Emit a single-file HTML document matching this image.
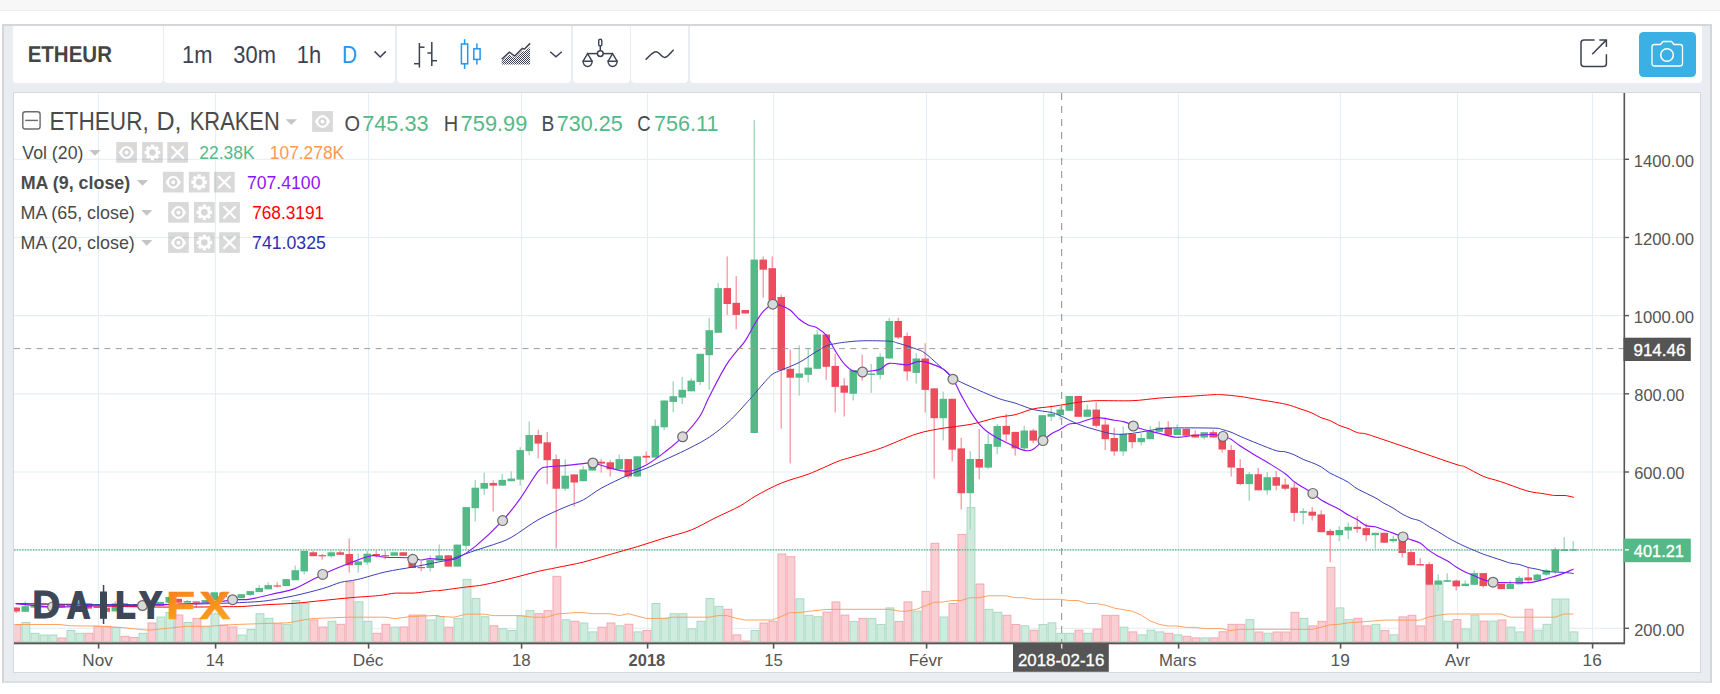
<!DOCTYPE html>
<html><head><meta charset="utf-8"><title>ETHEUR chart</title>
<style>
html,body{margin:0;padding:0;background:#fff;}
body{width:1720px;height:694px;overflow:hidden;position:relative;font-family:"Liberation Sans",sans-serif;}
.strip{position:absolute;left:0;top:0;width:100%;height:10px;background:#f7f7f7;border-bottom:1px solid #ececec;}
.frame{position:absolute;left:2px;top:24px;width:1706px;height:655px;background:#e9edf1;border:2px solid #d4d6d9;border-bottom-color:#dcdfe2;}
.tb{position:absolute;top:26px;height:57px;background:#fff;border-radius:0 0 4px 4px;}
.pane{position:absolute;left:13px;top:92px;width:1686px;height:579px;background:#fff;border:1px solid #d5d9dd;}
svg{position:absolute;left:0;top:0;}
</style></head><body>
<div class="strip"></div>
<div class="frame"></div>
<div class="tb" style="left:13px;width:150.3px"></div>
<div class="tb" style="left:164.4px;width:231.1px"></div>
<div class="tb" style="left:397px;width:174px"></div>
<div class="tb" style="left:572.5px;width:57px"></div>
<div class="tb" style="left:631px;width:57px"></div>
<div class="tb" style="left:689.5px;width:1012.5px"></div>
<div class="pane"></div>
<svg width="1720" height="694" viewBox="0 0 1720 694">
<defs><clipPath id="cp"><rect x="14" y="93" width="1609.5" height="549.3"/></clipPath><linearGradient id="fx" x1="0" y1="0" x2="0.35" y2="1"><stop offset="0" stop-color="#f47920"/><stop offset="1" stop-color="#fba31c"/></linearGradient></defs>
<rect x="97.9" y="93" width="1.2" height="549" fill="#e6eef4"/>
<rect x="214.9" y="93" width="1.2" height="549" fill="#e6eef4"/>
<rect x="367.9" y="93" width="1.2" height="549" fill="#e6eef4"/>
<rect x="520.9" y="93" width="1.2" height="549" fill="#e6eef4"/>
<rect x="646.9" y="93" width="1.2" height="549" fill="#e6eef4"/>
<rect x="772.9" y="93" width="1.2" height="549" fill="#e6eef4"/>
<rect x="925.9" y="93" width="1.2" height="549" fill="#e6eef4"/>
<rect x="1042.9" y="93" width="1.2" height="549" fill="#e6eef4"/>
<rect x="1177.9" y="93" width="1.2" height="549" fill="#e6eef4"/>
<rect x="1339.9" y="93" width="1.2" height="549" fill="#e6eef4"/>
<rect x="1456.9" y="93" width="1.2" height="549" fill="#e6eef4"/>
<rect x="1591.9" y="93" width="1.2" height="549" fill="#e6eef4"/>
<rect x="14" y="158.7" width="1610" height="1.2" fill="#e6eef4"/>
<rect x="14" y="236.9" width="1610" height="1.2" fill="#e6eef4"/>
<rect x="14" y="315.0" width="1610" height="1.2" fill="#e6eef4"/>
<rect x="14" y="393.2" width="1610" height="1.2" fill="#e6eef4"/>
<rect x="14" y="471.4" width="1610" height="1.2" fill="#e6eef4"/>
<rect x="14" y="549.6" width="1610" height="1.2" fill="#e6eef4"/>
<rect x="14" y="627.7" width="1610" height="1.2" fill="#e6eef4"/>
<g clip-path="url(#cp)">
<rect x="13.0" y="624.5" width="7.9" height="17.3" fill="#f9cbd0" stroke="#f2a3ab" stroke-width="0.9" fill-opacity="0.92"/>
<rect x="22.0" y="622.5" width="7.9" height="19.3" fill="#cbe9db" stroke="#a3d7bf" stroke-width="0.9" fill-opacity="0.92"/>
<rect x="31.0" y="633.3" width="7.9" height="8.5" fill="#cbe9db" stroke="#a3d7bf" stroke-width="0.9" fill-opacity="0.92"/>
<rect x="40.0" y="635.0" width="7.9" height="6.8" fill="#cbe9db" stroke="#a3d7bf" stroke-width="0.9" fill-opacity="0.92"/>
<rect x="49.0" y="635.0" width="7.9" height="6.8" fill="#cbe9db" stroke="#a3d7bf" stroke-width="0.9" fill-opacity="0.92"/>
<rect x="58.0" y="638.0" width="7.9" height="3.8" fill="#f9cbd0" stroke="#f2a3ab" stroke-width="0.9" fill-opacity="0.92"/>
<rect x="67.0" y="630.5" width="7.9" height="11.3" fill="#cbe9db" stroke="#a3d7bf" stroke-width="0.9" fill-opacity="0.92"/>
<rect x="76.0" y="633.3" width="7.9" height="8.5" fill="#cbe9db" stroke="#a3d7bf" stroke-width="0.9" fill-opacity="0.92"/>
<rect x="85.0" y="633.3" width="7.9" height="8.5" fill="#f9cbd0" stroke="#f2a3ab" stroke-width="0.9" fill-opacity="0.92"/>
<rect x="94.0" y="626.3" width="7.9" height="15.5" fill="#f9cbd0" stroke="#f2a3ab" stroke-width="0.9" fill-opacity="0.92"/>
<rect x="103.0" y="626.3" width="7.9" height="15.5" fill="#f9cbd0" stroke="#f2a3ab" stroke-width="0.9" fill-opacity="0.92"/>
<rect x="112.0" y="627.5" width="7.9" height="14.3" fill="#cbe9db" stroke="#a3d7bf" stroke-width="0.9" fill-opacity="0.92"/>
<rect x="121.0" y="636.3" width="7.9" height="5.5" fill="#f9cbd0" stroke="#f2a3ab" stroke-width="0.9" fill-opacity="0.92"/>
<rect x="130.0" y="637.5" width="7.9" height="4.3" fill="#f9cbd0" stroke="#f2a3ab" stroke-width="0.9" fill-opacity="0.92"/>
<rect x="139.0" y="633.3" width="7.9" height="8.5" fill="#cbe9db" stroke="#a3d7bf" stroke-width="0.9" fill-opacity="0.92"/>
<rect x="148.0" y="623.0" width="7.9" height="18.8" fill="#f9cbd0" stroke="#f2a3ab" stroke-width="0.9" fill-opacity="0.92"/>
<rect x="157.0" y="617.0" width="7.9" height="24.8" fill="#cbe9db" stroke="#a3d7bf" stroke-width="0.9" fill-opacity="0.92"/>
<rect x="166.0" y="612.5" width="7.9" height="29.3" fill="#cbe9db" stroke="#a3d7bf" stroke-width="0.9" fill-opacity="0.92"/>
<rect x="175.0" y="615.0" width="7.9" height="26.8" fill="#f9cbd0" stroke="#f2a3ab" stroke-width="0.9" fill-opacity="0.92"/>
<rect x="184.0" y="622.5" width="7.9" height="19.3" fill="#cbe9db" stroke="#a3d7bf" stroke-width="0.9" fill-opacity="0.92"/>
<rect x="193.0" y="618.3" width="7.9" height="23.5" fill="#f9cbd0" stroke="#f2a3ab" stroke-width="0.9" fill-opacity="0.92"/>
<rect x="202.0" y="626.8" width="7.9" height="15.0" fill="#cbe9db" stroke="#a3d7bf" stroke-width="0.9" fill-opacity="0.92"/>
<rect x="211.0" y="613.8" width="7.9" height="28.0" fill="#cbe9db" stroke="#a3d7bf" stroke-width="0.9" fill-opacity="0.92"/>
<rect x="220.0" y="625.0" width="7.9" height="16.8" fill="#f9cbd0" stroke="#f2a3ab" stroke-width="0.9" fill-opacity="0.92"/>
<rect x="229.0" y="627.0" width="7.9" height="14.8" fill="#f9cbd0" stroke="#f2a3ab" stroke-width="0.9" fill-opacity="0.92"/>
<rect x="238.0" y="635.0" width="7.9" height="6.8" fill="#cbe9db" stroke="#a3d7bf" stroke-width="0.9" fill-opacity="0.92"/>
<rect x="247.0" y="629.5" width="7.9" height="12.3" fill="#cbe9db" stroke="#a3d7bf" stroke-width="0.9" fill-opacity="0.92"/>
<rect x="256.0" y="613.8" width="7.9" height="28.0" fill="#cbe9db" stroke="#a3d7bf" stroke-width="0.9" fill-opacity="0.92"/>
<rect x="265.0" y="618.3" width="7.9" height="23.5" fill="#cbe9db" stroke="#a3d7bf" stroke-width="0.9" fill-opacity="0.92"/>
<rect x="274.0" y="623.8" width="7.9" height="18.0" fill="#f9cbd0" stroke="#f2a3ab" stroke-width="0.9" fill-opacity="0.92"/>
<rect x="283.0" y="624.3" width="7.9" height="17.5" fill="#cbe9db" stroke="#a3d7bf" stroke-width="0.9" fill-opacity="0.92"/>
<rect x="292.0" y="600.5" width="7.9" height="41.3" fill="#cbe9db" stroke="#a3d7bf" stroke-width="0.9" fill-opacity="0.92"/>
<rect x="301.0" y="603.3" width="7.9" height="38.5" fill="#cbe9db" stroke="#a3d7bf" stroke-width="0.9" fill-opacity="0.92"/>
<rect x="310.0" y="620.0" width="7.9" height="21.8" fill="#f9cbd0" stroke="#f2a3ab" stroke-width="0.9" fill-opacity="0.92"/>
<rect x="319.0" y="627.0" width="7.9" height="14.8" fill="#f9cbd0" stroke="#f2a3ab" stroke-width="0.9" fill-opacity="0.92"/>
<rect x="328.0" y="621.3" width="7.9" height="20.5" fill="#cbe9db" stroke="#a3d7bf" stroke-width="0.9" fill-opacity="0.92"/>
<rect x="337.0" y="624.3" width="7.9" height="17.5" fill="#f9cbd0" stroke="#f2a3ab" stroke-width="0.9" fill-opacity="0.92"/>
<rect x="346.0" y="582.0" width="7.9" height="59.8" fill="#f9cbd0" stroke="#f2a3ab" stroke-width="0.9" fill-opacity="0.92"/>
<rect x="355.0" y="601.8" width="7.9" height="40.0" fill="#cbe9db" stroke="#a3d7bf" stroke-width="0.9" fill-opacity="0.92"/>
<rect x="364.0" y="621.3" width="7.9" height="20.5" fill="#cbe9db" stroke="#a3d7bf" stroke-width="0.9" fill-opacity="0.92"/>
<rect x="373.0" y="633.3" width="7.9" height="8.5" fill="#f9cbd0" stroke="#f2a3ab" stroke-width="0.9" fill-opacity="0.92"/>
<rect x="382.0" y="624.3" width="7.9" height="17.5" fill="#f9cbd0" stroke="#f2a3ab" stroke-width="0.9" fill-opacity="0.92"/>
<rect x="391.0" y="627.0" width="7.9" height="14.8" fill="#cbe9db" stroke="#a3d7bf" stroke-width="0.9" fill-opacity="0.92"/>
<rect x="400.0" y="627.0" width="7.9" height="14.8" fill="#f9cbd0" stroke="#f2a3ab" stroke-width="0.9" fill-opacity="0.92"/>
<rect x="409.0" y="615.0" width="7.9" height="26.8" fill="#f9cbd0" stroke="#f2a3ab" stroke-width="0.9" fill-opacity="0.92"/>
<rect x="418.0" y="615.0" width="7.9" height="26.8" fill="#f9cbd0" stroke="#f2a3ab" stroke-width="0.9" fill-opacity="0.92"/>
<rect x="427.0" y="620.0" width="7.9" height="21.8" fill="#cbe9db" stroke="#a3d7bf" stroke-width="0.9" fill-opacity="0.92"/>
<rect x="436.0" y="616.5" width="7.9" height="25.3" fill="#cbe9db" stroke="#a3d7bf" stroke-width="0.9" fill-opacity="0.92"/>
<rect x="445.0" y="627.2" width="7.9" height="14.6" fill="#f9cbd0" stroke="#f2a3ab" stroke-width="0.9" fill-opacity="0.92"/>
<rect x="454.0" y="618.4" width="7.9" height="23.4" fill="#cbe9db" stroke="#a3d7bf" stroke-width="0.9" fill-opacity="0.92"/>
<rect x="463.0" y="579.3" width="7.9" height="62.5" fill="#cbe9db" stroke="#a3d7bf" stroke-width="0.9" fill-opacity="0.92"/>
<rect x="472.0" y="598.6" width="7.9" height="43.2" fill="#cbe9db" stroke="#a3d7bf" stroke-width="0.9" fill-opacity="0.92"/>
<rect x="481.0" y="616.7" width="7.9" height="25.1" fill="#cbe9db" stroke="#a3d7bf" stroke-width="0.9" fill-opacity="0.92"/>
<rect x="490.0" y="625.8" width="7.9" height="16.0" fill="#f9cbd0" stroke="#f2a3ab" stroke-width="0.9" fill-opacity="0.92"/>
<rect x="499.0" y="628.8" width="7.9" height="13.0" fill="#cbe9db" stroke="#a3d7bf" stroke-width="0.9" fill-opacity="0.92"/>
<rect x="508.0" y="630.5" width="7.9" height="11.3" fill="#cbe9db" stroke="#a3d7bf" stroke-width="0.9" fill-opacity="0.92"/>
<rect x="517.0" y="616.0" width="7.9" height="25.8" fill="#cbe9db" stroke="#a3d7bf" stroke-width="0.9" fill-opacity="0.92"/>
<rect x="526.0" y="610.7" width="7.9" height="31.1" fill="#cbe9db" stroke="#a3d7bf" stroke-width="0.9" fill-opacity="0.92"/>
<rect x="535.0" y="613.7" width="7.9" height="28.1" fill="#f9cbd0" stroke="#f2a3ab" stroke-width="0.9" fill-opacity="0.92"/>
<rect x="544.0" y="610.7" width="7.9" height="31.1" fill="#f9cbd0" stroke="#f2a3ab" stroke-width="0.9" fill-opacity="0.92"/>
<rect x="553.0" y="576.3" width="7.9" height="65.5" fill="#f9cbd0" stroke="#f2a3ab" stroke-width="0.9" fill-opacity="0.92"/>
<rect x="562.0" y="619.8" width="7.9" height="22.0" fill="#cbe9db" stroke="#a3d7bf" stroke-width="0.9" fill-opacity="0.92"/>
<rect x="571.0" y="621.2" width="7.9" height="20.6" fill="#f9cbd0" stroke="#f2a3ab" stroke-width="0.9" fill-opacity="0.92"/>
<rect x="580.0" y="623.0" width="7.9" height="18.8" fill="#cbe9db" stroke="#a3d7bf" stroke-width="0.9" fill-opacity="0.92"/>
<rect x="589.0" y="631.9" width="7.9" height="9.9" fill="#cbe9db" stroke="#a3d7bf" stroke-width="0.9" fill-opacity="0.92"/>
<rect x="598.0" y="627.2" width="7.9" height="14.6" fill="#f9cbd0" stroke="#f2a3ab" stroke-width="0.9" fill-opacity="0.92"/>
<rect x="607.0" y="623.0" width="7.9" height="18.8" fill="#f9cbd0" stroke="#f2a3ab" stroke-width="0.9" fill-opacity="0.92"/>
<rect x="616.0" y="625.8" width="7.9" height="16.0" fill="#cbe9db" stroke="#a3d7bf" stroke-width="0.9" fill-opacity="0.92"/>
<rect x="625.0" y="624.2" width="7.9" height="17.6" fill="#f9cbd0" stroke="#f2a3ab" stroke-width="0.9" fill-opacity="0.92"/>
<rect x="634.0" y="631.9" width="7.9" height="9.9" fill="#cbe9db" stroke="#a3d7bf" stroke-width="0.9" fill-opacity="0.92"/>
<rect x="643.0" y="630.5" width="7.9" height="11.3" fill="#f9cbd0" stroke="#f2a3ab" stroke-width="0.9" fill-opacity="0.92"/>
<rect x="652.0" y="603.5" width="7.9" height="38.3" fill="#cbe9db" stroke="#a3d7bf" stroke-width="0.9" fill-opacity="0.92"/>
<rect x="661.0" y="618.4" width="7.9" height="23.4" fill="#cbe9db" stroke="#a3d7bf" stroke-width="0.9" fill-opacity="0.92"/>
<rect x="670.0" y="613.7" width="7.9" height="28.1" fill="#cbe9db" stroke="#a3d7bf" stroke-width="0.9" fill-opacity="0.92"/>
<rect x="679.0" y="613.7" width="7.9" height="28.1" fill="#cbe9db" stroke="#a3d7bf" stroke-width="0.9" fill-opacity="0.92"/>
<rect x="688.0" y="628.8" width="7.9" height="13.0" fill="#cbe9db" stroke="#a3d7bf" stroke-width="0.9" fill-opacity="0.92"/>
<rect x="697.0" y="621.2" width="7.9" height="20.6" fill="#cbe9db" stroke="#a3d7bf" stroke-width="0.9" fill-opacity="0.92"/>
<rect x="706.0" y="598.6" width="7.9" height="43.2" fill="#cbe9db" stroke="#a3d7bf" stroke-width="0.9" fill-opacity="0.92"/>
<rect x="715.0" y="606.3" width="7.9" height="35.5" fill="#cbe9db" stroke="#a3d7bf" stroke-width="0.9" fill-opacity="0.92"/>
<rect x="724.0" y="609.3" width="7.9" height="32.5" fill="#f9cbd0" stroke="#f2a3ab" stroke-width="0.9" fill-opacity="0.92"/>
<rect x="733.0" y="634.9" width="7.9" height="6.9" fill="#f9cbd0" stroke="#f2a3ab" stroke-width="0.9" fill-opacity="0.92"/>
<rect x="742.0" y="641.0" width="7.9" height="0.8" fill="#f9cbd0" stroke="#f2a3ab" stroke-width="0.9" fill-opacity="0.92"/>
<rect x="751.0" y="630.5" width="7.9" height="11.3" fill="#cbe9db" stroke="#a3d7bf" stroke-width="0.9" fill-opacity="0.92"/>
<rect x="760.0" y="623.0" width="7.9" height="18.8" fill="#f9cbd0" stroke="#f2a3ab" stroke-width="0.9" fill-opacity="0.92"/>
<rect x="769.0" y="621.2" width="7.9" height="20.6" fill="#f9cbd0" stroke="#f2a3ab" stroke-width="0.9" fill-opacity="0.92"/>
<rect x="778.0" y="554.0" width="7.9" height="87.8" fill="#f9cbd0" stroke="#f2a3ab" stroke-width="0.9" fill-opacity="0.92"/>
<rect x="787.0" y="556.7" width="7.9" height="85.1" fill="#f9cbd0" stroke="#f2a3ab" stroke-width="0.9" fill-opacity="0.92"/>
<rect x="796.0" y="598.8" width="7.9" height="43.0" fill="#cbe9db" stroke="#a3d7bf" stroke-width="0.9" fill-opacity="0.92"/>
<rect x="805.0" y="615.3" width="7.9" height="26.5" fill="#cbe9db" stroke="#a3d7bf" stroke-width="0.9" fill-opacity="0.92"/>
<rect x="814.0" y="616.7" width="7.9" height="25.1" fill="#cbe9db" stroke="#a3d7bf" stroke-width="0.9" fill-opacity="0.92"/>
<rect x="823.0" y="612.1" width="7.9" height="29.7" fill="#f9cbd0" stroke="#f2a3ab" stroke-width="0.9" fill-opacity="0.92"/>
<rect x="832.0" y="602.0" width="7.9" height="39.8" fill="#f9cbd0" stroke="#f2a3ab" stroke-width="0.9" fill-opacity="0.92"/>
<rect x="841.0" y="615.1" width="7.9" height="26.7" fill="#f9cbd0" stroke="#f2a3ab" stroke-width="0.9" fill-opacity="0.92"/>
<rect x="850.0" y="621.4" width="7.9" height="20.4" fill="#cbe9db" stroke="#a3d7bf" stroke-width="0.9" fill-opacity="0.92"/>
<rect x="859.0" y="618.4" width="7.9" height="23.4" fill="#f9cbd0" stroke="#f2a3ab" stroke-width="0.9" fill-opacity="0.92"/>
<rect x="868.0" y="618.4" width="7.9" height="23.4" fill="#cbe9db" stroke="#a3d7bf" stroke-width="0.9" fill-opacity="0.92"/>
<rect x="877.0" y="624.4" width="7.9" height="17.4" fill="#cbe9db" stroke="#a3d7bf" stroke-width="0.9" fill-opacity="0.92"/>
<rect x="886.0" y="607.9" width="7.9" height="33.9" fill="#cbe9db" stroke="#a3d7bf" stroke-width="0.9" fill-opacity="0.92"/>
<rect x="895.0" y="621.4" width="7.9" height="20.4" fill="#f9cbd0" stroke="#f2a3ab" stroke-width="0.9" fill-opacity="0.92"/>
<rect x="904.0" y="601.9" width="7.9" height="39.9" fill="#f9cbd0" stroke="#f2a3ab" stroke-width="0.9" fill-opacity="0.92"/>
<rect x="913.0" y="611.2" width="7.9" height="30.6" fill="#cbe9db" stroke="#a3d7bf" stroke-width="0.9" fill-opacity="0.92"/>
<rect x="922.0" y="591.4" width="7.9" height="50.4" fill="#f9cbd0" stroke="#f2a3ab" stroke-width="0.9" fill-opacity="0.92"/>
<rect x="931.0" y="543.3" width="7.9" height="98.5" fill="#f9cbd0" stroke="#f2a3ab" stroke-width="0.9" fill-opacity="0.92"/>
<rect x="940.0" y="617.0" width="7.9" height="24.8" fill="#cbe9db" stroke="#a3d7bf" stroke-width="0.9" fill-opacity="0.92"/>
<rect x="949.0" y="603.5" width="7.9" height="38.3" fill="#f9cbd0" stroke="#f2a3ab" stroke-width="0.9" fill-opacity="0.92"/>
<rect x="958.0" y="534.4" width="7.9" height="107.4" fill="#f9cbd0" stroke="#f2a3ab" stroke-width="0.9" fill-opacity="0.92"/>
<rect x="967.0" y="507.4" width="7.9" height="134.4" fill="#cbe9db" stroke="#a3d7bf" stroke-width="0.9" fill-opacity="0.92"/>
<rect x="976.0" y="584.0" width="7.9" height="57.8" fill="#f9cbd0" stroke="#f2a3ab" stroke-width="0.9" fill-opacity="0.92"/>
<rect x="985.0" y="609.3" width="7.9" height="32.5" fill="#cbe9db" stroke="#a3d7bf" stroke-width="0.9" fill-opacity="0.92"/>
<rect x="994.0" y="612.3" width="7.9" height="29.5" fill="#cbe9db" stroke="#a3d7bf" stroke-width="0.9" fill-opacity="0.92"/>
<rect x="1003.0" y="615.3" width="7.9" height="26.5" fill="#f9cbd0" stroke="#f2a3ab" stroke-width="0.9" fill-opacity="0.92"/>
<rect x="1012.0" y="624.4" width="7.9" height="17.4" fill="#f9cbd0" stroke="#f2a3ab" stroke-width="0.9" fill-opacity="0.92"/>
<rect x="1021.0" y="625.8" width="7.9" height="16.0" fill="#cbe9db" stroke="#a3d7bf" stroke-width="0.9" fill-opacity="0.92"/>
<rect x="1030.0" y="630.2" width="7.9" height="11.6" fill="#f9cbd0" stroke="#f2a3ab" stroke-width="0.9" fill-opacity="0.92"/>
<rect x="1039.0" y="624.4" width="7.9" height="17.4" fill="#cbe9db" stroke="#a3d7bf" stroke-width="0.9" fill-opacity="0.92"/>
<rect x="1048.0" y="622.8" width="7.9" height="19.0" fill="#cbe9db" stroke="#a3d7bf" stroke-width="0.9" fill-opacity="0.92"/>
<rect x="1057.0" y="633.3" width="7.9" height="8.5" fill="#cbe9db" stroke="#a3d7bf" stroke-width="0.9" fill-opacity="0.92"/>
<rect x="1066.0" y="633.3" width="7.9" height="8.5" fill="#cbe9db" stroke="#a3d7bf" stroke-width="0.9" fill-opacity="0.92"/>
<rect x="1075.0" y="630.2" width="7.9" height="11.6" fill="#f9cbd0" stroke="#f2a3ab" stroke-width="0.9" fill-opacity="0.92"/>
<rect x="1084.0" y="633.3" width="7.9" height="8.5" fill="#cbe9db" stroke="#a3d7bf" stroke-width="0.9" fill-opacity="0.92"/>
<rect x="1093.0" y="629.1" width="7.9" height="12.7" fill="#f9cbd0" stroke="#f2a3ab" stroke-width="0.9" fill-opacity="0.92"/>
<rect x="1102.0" y="615.3" width="7.9" height="26.5" fill="#f9cbd0" stroke="#f2a3ab" stroke-width="0.9" fill-opacity="0.92"/>
<rect x="1111.0" y="615.3" width="7.9" height="26.5" fill="#f9cbd0" stroke="#f2a3ab" stroke-width="0.9" fill-opacity="0.92"/>
<rect x="1120.0" y="627.2" width="7.9" height="14.6" fill="#cbe9db" stroke="#a3d7bf" stroke-width="0.9" fill-opacity="0.92"/>
<rect x="1129.0" y="631.9" width="7.9" height="9.9" fill="#f9cbd0" stroke="#f2a3ab" stroke-width="0.9" fill-opacity="0.92"/>
<rect x="1138.0" y="634.9" width="7.9" height="6.9" fill="#cbe9db" stroke="#a3d7bf" stroke-width="0.9" fill-opacity="0.92"/>
<rect x="1147.0" y="630.2" width="7.9" height="11.6" fill="#cbe9db" stroke="#a3d7bf" stroke-width="0.9" fill-opacity="0.92"/>
<rect x="1156.0" y="631.9" width="7.9" height="9.9" fill="#cbe9db" stroke="#a3d7bf" stroke-width="0.9" fill-opacity="0.92"/>
<rect x="1165.0" y="633.3" width="7.9" height="8.5" fill="#f9cbd0" stroke="#f2a3ab" stroke-width="0.9" fill-opacity="0.92"/>
<rect x="1174.0" y="634.9" width="7.9" height="6.9" fill="#cbe9db" stroke="#a3d7bf" stroke-width="0.9" fill-opacity="0.92"/>
<rect x="1183.0" y="636.3" width="7.9" height="5.5" fill="#f9cbd0" stroke="#f2a3ab" stroke-width="0.9" fill-opacity="0.92"/>
<rect x="1192.0" y="637.9" width="7.9" height="3.9" fill="#f9cbd0" stroke="#f2a3ab" stroke-width="0.9" fill-opacity="0.92"/>
<rect x="1201.0" y="637.9" width="7.9" height="3.9" fill="#cbe9db" stroke="#a3d7bf" stroke-width="0.9" fill-opacity="0.92"/>
<rect x="1210.0" y="637.9" width="7.9" height="3.9" fill="#f9cbd0" stroke="#f2a3ab" stroke-width="0.9" fill-opacity="0.92"/>
<rect x="1219.0" y="631.8" width="7.9" height="10.0" fill="#f9cbd0" stroke="#f2a3ab" stroke-width="0.9" fill-opacity="0.92"/>
<rect x="1228.0" y="624.3" width="7.9" height="17.5" fill="#f9cbd0" stroke="#f2a3ab" stroke-width="0.9" fill-opacity="0.92"/>
<rect x="1237.0" y="624.3" width="7.9" height="17.5" fill="#f9cbd0" stroke="#f2a3ab" stroke-width="0.9" fill-opacity="0.92"/>
<rect x="1246.0" y="619.7" width="7.9" height="22.1" fill="#cbe9db" stroke="#a3d7bf" stroke-width="0.9" fill-opacity="0.92"/>
<rect x="1255.0" y="632.0" width="7.9" height="9.8" fill="#f9cbd0" stroke="#f2a3ab" stroke-width="0.9" fill-opacity="0.92"/>
<rect x="1264.0" y="633.2" width="7.9" height="8.6" fill="#cbe9db" stroke="#a3d7bf" stroke-width="0.9" fill-opacity="0.92"/>
<rect x="1273.0" y="632.0" width="7.9" height="9.8" fill="#f9cbd0" stroke="#f2a3ab" stroke-width="0.9" fill-opacity="0.92"/>
<rect x="1282.0" y="632.0" width="7.9" height="9.8" fill="#f9cbd0" stroke="#f2a3ab" stroke-width="0.9" fill-opacity="0.92"/>
<rect x="1291.0" y="612.3" width="7.9" height="29.5" fill="#f9cbd0" stroke="#f2a3ab" stroke-width="0.9" fill-opacity="0.92"/>
<rect x="1300.0" y="618.3" width="7.9" height="23.5" fill="#cbe9db" stroke="#a3d7bf" stroke-width="0.9" fill-opacity="0.92"/>
<rect x="1309.0" y="625.9" width="7.9" height="15.9" fill="#f9cbd0" stroke="#f2a3ab" stroke-width="0.9" fill-opacity="0.92"/>
<rect x="1318.0" y="621.3" width="7.9" height="20.5" fill="#f9cbd0" stroke="#f2a3ab" stroke-width="0.9" fill-opacity="0.92"/>
<rect x="1327.0" y="567.3" width="7.9" height="74.5" fill="#f9cbd0" stroke="#f2a3ab" stroke-width="0.9" fill-opacity="0.92"/>
<rect x="1336.0" y="607.9" width="7.9" height="33.9" fill="#cbe9db" stroke="#a3d7bf" stroke-width="0.9" fill-opacity="0.92"/>
<rect x="1345.0" y="619.7" width="7.9" height="22.1" fill="#cbe9db" stroke="#a3d7bf" stroke-width="0.9" fill-opacity="0.92"/>
<rect x="1354.0" y="618.3" width="7.9" height="23.5" fill="#f9cbd0" stroke="#f2a3ab" stroke-width="0.9" fill-opacity="0.92"/>
<rect x="1363.0" y="625.9" width="7.9" height="15.9" fill="#f9cbd0" stroke="#f2a3ab" stroke-width="0.9" fill-opacity="0.92"/>
<rect x="1372.0" y="624.3" width="7.9" height="17.5" fill="#cbe9db" stroke="#a3d7bf" stroke-width="0.9" fill-opacity="0.92"/>
<rect x="1381.0" y="630.4" width="7.9" height="11.4" fill="#f9cbd0" stroke="#f2a3ab" stroke-width="0.9" fill-opacity="0.92"/>
<rect x="1390.0" y="634.8" width="7.9" height="7.0" fill="#cbe9db" stroke="#a3d7bf" stroke-width="0.9" fill-opacity="0.92"/>
<rect x="1399.0" y="616.9" width="7.9" height="24.9" fill="#f9cbd0" stroke="#f2a3ab" stroke-width="0.9" fill-opacity="0.92"/>
<rect x="1408.0" y="615.3" width="7.9" height="26.5" fill="#f9cbd0" stroke="#f2a3ab" stroke-width="0.9" fill-opacity="0.92"/>
<rect x="1417.0" y="625.9" width="7.9" height="15.9" fill="#f9cbd0" stroke="#f2a3ab" stroke-width="0.9" fill-opacity="0.92"/>
<rect x="1426.0" y="585.0" width="7.9" height="56.8" fill="#f9cbd0" stroke="#f2a3ab" stroke-width="0.9" fill-opacity="0.92"/>
<rect x="1435.0" y="582.0" width="7.9" height="59.8" fill="#cbe9db" stroke="#a3d7bf" stroke-width="0.9" fill-opacity="0.92"/>
<rect x="1444.0" y="621.2" width="7.9" height="20.6" fill="#cbe9db" stroke="#a3d7bf" stroke-width="0.9" fill-opacity="0.92"/>
<rect x="1453.0" y="619.6" width="7.9" height="22.2" fill="#f9cbd0" stroke="#f2a3ab" stroke-width="0.9" fill-opacity="0.92"/>
<rect x="1462.0" y="629.0" width="7.9" height="12.8" fill="#cbe9db" stroke="#a3d7bf" stroke-width="0.9" fill-opacity="0.92"/>
<rect x="1471.0" y="615.2" width="7.9" height="26.6" fill="#cbe9db" stroke="#a3d7bf" stroke-width="0.9" fill-opacity="0.92"/>
<rect x="1480.0" y="621.1" width="7.9" height="20.7" fill="#f9cbd0" stroke="#f2a3ab" stroke-width="0.9" fill-opacity="0.92"/>
<rect x="1489.0" y="621.1" width="7.9" height="20.7" fill="#cbe9db" stroke="#a3d7bf" stroke-width="0.9" fill-opacity="0.92"/>
<rect x="1498.0" y="620.0" width="7.9" height="21.8" fill="#f9cbd0" stroke="#f2a3ab" stroke-width="0.9" fill-opacity="0.92"/>
<rect x="1507.0" y="627.1" width="7.9" height="14.7" fill="#cbe9db" stroke="#a3d7bf" stroke-width="0.9" fill-opacity="0.92"/>
<rect x="1516.0" y="631.9" width="7.9" height="9.9" fill="#cbe9db" stroke="#a3d7bf" stroke-width="0.9" fill-opacity="0.92"/>
<rect x="1525.0" y="609.2" width="7.9" height="32.6" fill="#f9cbd0" stroke="#f2a3ab" stroke-width="0.9" fill-opacity="0.92"/>
<rect x="1534.0" y="630.2" width="7.9" height="11.6" fill="#cbe9db" stroke="#a3d7bf" stroke-width="0.9" fill-opacity="0.92"/>
<rect x="1543.0" y="624.3" width="7.9" height="17.5" fill="#cbe9db" stroke="#a3d7bf" stroke-width="0.9" fill-opacity="0.92"/>
<rect x="1552.0" y="599.0" width="7.9" height="42.8" fill="#cbe9db" stroke="#a3d7bf" stroke-width="0.9" fill-opacity="0.92"/>
<rect x="1561.0" y="599.0" width="7.9" height="42.8" fill="#cbe9db" stroke="#a3d7bf" stroke-width="0.9" fill-opacity="0.92"/>
<rect x="1570.0" y="631.9" width="7.9" height="9.9" fill="#cbe9db" stroke="#a3d7bf" stroke-width="0.9" fill-opacity="0.92"/>
<polyline points="16.2,624.5 60.0,624.5 70.0,625.8 98.0,626.1 120.0,627.4 148.0,630.2 165.0,628.5 187.0,626.3 210.0,626.2 235.0,624.5 287.8,622.8 311.5,618.6 347.8,617.2 385.0,617.2 395.2,618.6 410.6,616.5 438.5,615.4 440.0,616.5 453.8,617.2 466.3,614.2 484.2,614.2 493.3,615.6 520.2,615.6 533.0,617.2 547.0,617.2 556.3,614.2 574.2,612.6 583.0,612.6 592.1,613.7 610.0,613.7 619.3,615.6 628.1,613.7 646.3,618.4 664.0,618.4 673.3,617.2 709.0,617.2 718.1,615.6 727.0,615.6 736.3,618.4 745.1,620.0 772.1,620.0 781.2,616.5 790.2,612.6 799.0,612.6 808.1,611.4 826.3,609.5 840.0,609.3 889.3,609.3 899.8,611.2 907.0,611.2 916.3,609.3 925.1,605.8 934.2,602.3 943.0,602.0 952.1,600.5 961.0,600.5 970.2,597.7 979.0,597.7 988.1,595.8 1006.3,595.8 1015.1,597.7 1024.0,597.7 1033.3,599.3 1060.2,599.3 1069.3,600.5 1078.0,600.5 1087.2,603.5 1096.0,603.5 1105.1,605.1 1114.2,608.1 1132.3,611.2 1141.2,615.1 1150.2,620.9 1159.3,624.4 1168.1,626.0 1177.0,626.0 1186.3,627.4 1195.0,627.4 1204.2,628.6 1222.0,628.6 1229.5,630.7 1240.1,629.3 1312.0,629.3 1321.1,627.2 1330.2,624.8 1339.0,624.3 1348.3,622.8 1366.2,621.6 1384.2,620.1 1420.2,620.1 1429.3,616.9 1438.1,615.3 1447.2,614.0 1501.0,614.0 1510.3,617.2 1555.2,617.2 1564.0,614.0 1573.2,614.0" fill="none" stroke="#ff9850" stroke-width="0.9" stroke-linejoin="round" stroke-linecap="round"/>
<rect x="15.5" y="607.5" width="1.5" height="5.5" fill="#f5a6ae"/>
<rect x="12.5" y="607.5" width="7.5" height="4.0" fill="#eb4d5c"/>
<rect x="24.5" y="601.3" width="1.5" height="10.5" fill="#a9dcc3"/>
<rect x="21.5" y="606.2" width="7.5" height="5.6" fill="#53b987"/>
<rect x="33.5" y="606.0" width="1.5" height="1.6" fill="#a9dcc3"/>
<rect x="30.5" y="606.0" width="7.5" height="1.6" fill="#53b987"/>
<rect x="42.5" y="606.5" width="1.5" height="1.0" fill="#a9dcc3"/>
<rect x="39.5" y="606.5" width="7.5" height="1.2" fill="#53b987"/>
<rect x="51.5" y="605.5" width="1.5" height="1.5" fill="#a9dcc3"/>
<rect x="48.5" y="605.5" width="7.5" height="1.5" fill="#53b987"/>
<rect x="60.5" y="604.1" width="1.5" height="3.5" fill="#f5a6ae"/>
<rect x="57.5" y="604.1" width="7.5" height="3.5" fill="#eb4d5c"/>
<rect x="69.5" y="604.0" width="1.5" height="2.0" fill="#a9dcc3"/>
<rect x="66.5" y="604.0" width="7.5" height="2.0" fill="#53b987"/>
<rect x="78.5" y="601.6" width="1.5" height="2.8" fill="#a9dcc3"/>
<rect x="75.5" y="601.6" width="7.5" height="2.8" fill="#53b987"/>
<rect x="87.5" y="603.4" width="1.5" height="5.2" fill="#f5a6ae"/>
<rect x="84.5" y="603.4" width="7.5" height="5.2" fill="#eb4d5c"/>
<rect x="96.5" y="606.5" width="1.5" height="1.5" fill="#f5a6ae"/>
<rect x="93.5" y="606.5" width="7.5" height="1.5" fill="#eb4d5c"/>
<rect x="105.5" y="607.6" width="1.5" height="4.2" fill="#f5a6ae"/>
<rect x="102.5" y="607.6" width="7.5" height="4.2" fill="#eb4d5c"/>
<rect x="114.5" y="601.0" width="1.5" height="10.4" fill="#a9dcc3"/>
<rect x="111.5" y="603.4" width="7.5" height="8.0" fill="#53b987"/>
<rect x="123.5" y="603.4" width="1.5" height="3.1" fill="#f5a6ae"/>
<rect x="120.5" y="603.4" width="7.5" height="3.1" fill="#eb4d5c"/>
<rect x="132.5" y="605.0" width="1.5" height="2.0" fill="#f5a6ae"/>
<rect x="129.5" y="605.0" width="7.5" height="2.0" fill="#eb4d5c"/>
<rect x="141.5" y="604.0" width="1.5" height="2.5" fill="#a9dcc3"/>
<rect x="138.5" y="604.0" width="7.5" height="2.5" fill="#53b987"/>
<rect x="150.5" y="604.0" width="1.5" height="1.8" fill="#f5a6ae"/>
<rect x="147.5" y="604.0" width="7.5" height="1.8" fill="#eb4d5c"/>
<rect x="159.5" y="601.8" width="1.5" height="4.2" fill="#a9dcc3"/>
<rect x="156.5" y="601.8" width="7.5" height="4.2" fill="#53b987"/>
<rect x="168.5" y="597.0" width="1.5" height="5.7" fill="#a9dcc3"/>
<rect x="165.5" y="597.0" width="7.5" height="5.7" fill="#53b987"/>
<rect x="177.5" y="598.8" width="1.5" height="3.9" fill="#f5a6ae"/>
<rect x="174.5" y="598.8" width="7.5" height="3.9" fill="#eb4d5c"/>
<rect x="186.5" y="600.0" width="1.5" height="2.7" fill="#a9dcc3"/>
<rect x="183.5" y="601.0" width="7.5" height="1.7" fill="#53b987"/>
<rect x="195.5" y="601.4" width="1.5" height="6.1" fill="#f5a6ae"/>
<rect x="192.5" y="601.4" width="7.5" height="1.3" fill="#eb4d5c"/>
<rect x="204.5" y="600.1" width="1.5" height="2.6" fill="#a9dcc3"/>
<rect x="201.5" y="600.1" width="7.5" height="2.6" fill="#53b987"/>
<rect x="213.5" y="592.3" width="1.5" height="7.8" fill="#a9dcc3"/>
<rect x="210.5" y="592.3" width="7.5" height="7.8" fill="#53b987"/>
<rect x="222.5" y="592.5" width="1.5" height="4.5" fill="#f5a6ae"/>
<rect x="219.5" y="592.5" width="7.5" height="4.5" fill="#eb4d5c"/>
<rect x="231.5" y="597.0" width="1.5" height="2.0" fill="#f5a6ae"/>
<rect x="228.5" y="597.0" width="7.5" height="2.0" fill="#eb4d5c"/>
<rect x="240.5" y="594.2" width="1.5" height="3.9" fill="#a9dcc3"/>
<rect x="237.5" y="594.2" width="7.5" height="3.9" fill="#53b987"/>
<rect x="249.5" y="591.1" width="1.5" height="4.9" fill="#a9dcc3"/>
<rect x="246.5" y="591.1" width="7.5" height="3.8" fill="#53b987"/>
<rect x="258.5" y="585.1" width="1.5" height="7.0" fill="#a9dcc3"/>
<rect x="255.5" y="587.9" width="7.5" height="4.2" fill="#53b987"/>
<rect x="267.5" y="582.3" width="1.5" height="7.0" fill="#a9dcc3"/>
<rect x="264.5" y="585.1" width="7.5" height="4.2" fill="#53b987"/>
<rect x="276.5" y="582.3" width="1.5" height="5.2" fill="#f5a6ae"/>
<rect x="273.5" y="585.4" width="7.5" height="1.2" fill="#eb4d5c"/>
<rect x="285.5" y="579.1" width="1.5" height="7.0" fill="#a9dcc3"/>
<rect x="282.5" y="579.1" width="7.5" height="7.0" fill="#53b987"/>
<rect x="294.5" y="565.6" width="1.5" height="14.6" fill="#a9dcc3"/>
<rect x="291.5" y="570.2" width="7.5" height="10.0" fill="#53b987"/>
<rect x="303.5" y="550.9" width="1.5" height="23.5" fill="#a9dcc3"/>
<rect x="300.5" y="550.9" width="7.5" height="20.5" fill="#53b987"/>
<rect x="312.5" y="551.0" width="1.5" height="5.2" fill="#f5a6ae"/>
<rect x="309.5" y="552.3" width="7.5" height="3.9" fill="#eb4d5c"/>
<rect x="321.5" y="554.0" width="1.5" height="5.6" fill="#f5a6ae"/>
<rect x="318.5" y="555.1" width="7.5" height="1.2" fill="#eb4d5c"/>
<rect x="330.5" y="551.0" width="1.5" height="6.5" fill="#a9dcc3"/>
<rect x="327.5" y="552.3" width="7.5" height="3.9" fill="#53b987"/>
<rect x="339.5" y="550.6" width="1.5" height="4.2" fill="#f5a6ae"/>
<rect x="336.5" y="552.3" width="7.5" height="2.5" fill="#eb4d5c"/>
<rect x="348.5" y="538.4" width="1.5" height="34.2" fill="#f5a6ae"/>
<rect x="345.5" y="554.0" width="7.5" height="11.2" fill="#eb4d5c"/>
<rect x="357.5" y="553.4" width="1.5" height="19.2" fill="#a9dcc3"/>
<rect x="354.5" y="561.4" width="7.5" height="3.8" fill="#53b987"/>
<rect x="366.5" y="551.0" width="1.5" height="14.0" fill="#a9dcc3"/>
<rect x="363.5" y="553.7" width="7.5" height="8.7" fill="#53b987"/>
<rect x="375.5" y="551.0" width="1.5" height="6.5" fill="#f5a6ae"/>
<rect x="372.5" y="554.0" width="7.5" height="1.8" fill="#eb4d5c"/>
<rect x="384.5" y="551.0" width="1.5" height="8.3" fill="#f5a6ae"/>
<rect x="381.5" y="555.1" width="7.5" height="1.2" fill="#eb4d5c"/>
<rect x="393.5" y="552.3" width="1.5" height="3.5" fill="#a9dcc3"/>
<rect x="390.5" y="552.3" width="7.5" height="3.5" fill="#53b987"/>
<rect x="402.5" y="552.3" width="1.5" height="3.5" fill="#f5a6ae"/>
<rect x="399.5" y="552.3" width="7.5" height="3.5" fill="#eb4d5c"/>
<rect x="411.5" y="555.8" width="1.5" height="12.2" fill="#f5a6ae"/>
<rect x="408.5" y="555.8" width="7.5" height="12.2" fill="#eb4d5c"/>
<rect x="420.5" y="561.0" width="1.5" height="10.4" fill="#f5a6ae"/>
<rect x="417.5" y="567.0" width="7.5" height="1.2" fill="#eb4d5c"/>
<rect x="429.5" y="555.4" width="1.5" height="16.0" fill="#a9dcc3"/>
<rect x="426.5" y="559.7" width="7.5" height="8.3" fill="#53b987"/>
<rect x="438.5" y="544.4" width="1.5" height="16.3" fill="#a9dcc3"/>
<rect x="435.5" y="555.4" width="7.5" height="5.3" fill="#53b987"/>
<rect x="447.5" y="555.3" width="1.5" height="11.3" fill="#f5a6ae"/>
<rect x="444.5" y="555.3" width="7.5" height="11.3" fill="#eb4d5c"/>
<rect x="456.5" y="544.6" width="1.5" height="22.0" fill="#a9dcc3"/>
<rect x="453.5" y="544.6" width="7.5" height="22.0" fill="#53b987"/>
<rect x="465.5" y="507.1" width="1.5" height="41.9" fill="#a9dcc3"/>
<rect x="462.5" y="507.1" width="7.5" height="38.7" fill="#53b987"/>
<rect x="474.5" y="479.9" width="1.5" height="41.5" fill="#a9dcc3"/>
<rect x="471.5" y="487.7" width="7.5" height="20.5" fill="#53b987"/>
<rect x="483.5" y="472.6" width="1.5" height="22.1" fill="#a9dcc3"/>
<rect x="480.5" y="483.0" width="7.5" height="5.7" fill="#53b987"/>
<rect x="492.5" y="480.4" width="1.5" height="31.1" fill="#f5a6ae"/>
<rect x="489.5" y="483.0" width="7.5" height="2.6" fill="#eb4d5c"/>
<rect x="501.5" y="474.0" width="1.5" height="11.6" fill="#a9dcc3"/>
<rect x="498.5" y="479.9" width="7.5" height="5.7" fill="#53b987"/>
<rect x="510.5" y="471.3" width="1.5" height="9.9" fill="#a9dcc3"/>
<rect x="507.5" y="478.6" width="7.5" height="2.6" fill="#53b987"/>
<rect x="519.5" y="447.2" width="1.5" height="38.4" fill="#a9dcc3"/>
<rect x="516.5" y="450.1" width="7.5" height="29.5" fill="#53b987"/>
<rect x="528.5" y="421.5" width="1.5" height="33.8" fill="#a9dcc3"/>
<rect x="525.5" y="435.0" width="7.5" height="16.1" fill="#53b987"/>
<rect x="537.5" y="429.8" width="1.5" height="28.6" fill="#f5a6ae"/>
<rect x="534.5" y="435.0" width="7.5" height="8.6" fill="#eb4d5c"/>
<rect x="546.5" y="431.9" width="1.5" height="52.4" fill="#f5a6ae"/>
<rect x="543.5" y="442.3" width="7.5" height="17.9" fill="#eb4d5c"/>
<rect x="555.5" y="454.5" width="1.5" height="94.1" fill="#f5a6ae"/>
<rect x="552.5" y="459.1" width="7.5" height="29.6" fill="#eb4d5c"/>
<rect x="564.5" y="459.1" width="1.5" height="31.7" fill="#a9dcc3"/>
<rect x="561.5" y="475.7" width="7.5" height="13.0" fill="#53b987"/>
<rect x="573.5" y="474.4" width="1.5" height="32.0" fill="#f5a6ae"/>
<rect x="570.5" y="474.4" width="7.5" height="8.1" fill="#eb4d5c"/>
<rect x="582.5" y="466.1" width="1.5" height="15.1" fill="#a9dcc3"/>
<rect x="579.5" y="469.5" width="7.5" height="11.7" fill="#53b987"/>
<rect x="591.5" y="462.0" width="1.5" height="8.6" fill="#a9dcc3"/>
<rect x="588.5" y="462.0" width="7.5" height="8.6" fill="#53b987"/>
<rect x="600.5" y="459.1" width="1.5" height="13.5" fill="#f5a6ae"/>
<rect x="597.5" y="461.7" width="7.5" height="1.9" fill="#eb4d5c"/>
<rect x="609.5" y="460.2" width="1.5" height="16.3" fill="#f5a6ae"/>
<rect x="606.5" y="462.3" width="7.5" height="7.0" fill="#eb4d5c"/>
<rect x="618.5" y="454.5" width="1.5" height="14.8" fill="#a9dcc3"/>
<rect x="615.5" y="459.1" width="7.5" height="10.2" fill="#53b987"/>
<rect x="627.5" y="459.1" width="1.5" height="19.5" fill="#f5a6ae"/>
<rect x="624.5" y="459.1" width="7.5" height="17.4" fill="#eb4d5c"/>
<rect x="636.5" y="456.3" width="1.5" height="20.2" fill="#a9dcc3"/>
<rect x="633.5" y="456.3" width="7.5" height="20.2" fill="#53b987"/>
<rect x="645.5" y="451.4" width="1.5" height="12.2" fill="#f5a6ae"/>
<rect x="642.5" y="455.8" width="7.5" height="1.8" fill="#eb4d5c"/>
<rect x="654.5" y="419.5" width="1.5" height="38.1" fill="#a9dcc3"/>
<rect x="651.5" y="425.9" width="7.5" height="31.7" fill="#53b987"/>
<rect x="663.5" y="400.5" width="1.5" height="29.5" fill="#a9dcc3"/>
<rect x="660.5" y="400.5" width="7.5" height="26.8" fill="#53b987"/>
<rect x="672.5" y="381.2" width="1.5" height="31.1" fill="#a9dcc3"/>
<rect x="669.5" y="396.2" width="7.5" height="5.7" fill="#53b987"/>
<rect x="681.5" y="376.8" width="1.5" height="27.4" fill="#a9dcc3"/>
<rect x="678.5" y="389.8" width="7.5" height="7.8" fill="#53b987"/>
<rect x="690.5" y="378.3" width="1.5" height="13.0" fill="#a9dcc3"/>
<rect x="687.5" y="380.6" width="7.5" height="10.7" fill="#53b987"/>
<rect x="699.5" y="353.8" width="1.5" height="31.2" fill="#a9dcc3"/>
<rect x="696.5" y="353.8" width="7.5" height="28.2" fill="#53b987"/>
<rect x="708.5" y="317.8" width="1.5" height="72.0" fill="#a9dcc3"/>
<rect x="705.5" y="330.2" width="7.5" height="25.0" fill="#53b987"/>
<rect x="717.5" y="283.2" width="1.5" height="49.6" fill="#a9dcc3"/>
<rect x="714.5" y="288.1" width="7.5" height="44.7" fill="#53b987"/>
<rect x="726.5" y="256.4" width="1.5" height="58.5" fill="#f5a6ae"/>
<rect x="723.5" y="288.1" width="7.5" height="15.9" fill="#eb4d5c"/>
<rect x="735.5" y="276.0" width="1.5" height="53.3" fill="#f5a6ae"/>
<rect x="732.5" y="302.8" width="7.5" height="12.1" fill="#eb4d5c"/>
<rect x="744.5" y="310.0" width="1.5" height="3.5" fill="#f5a6ae"/>
<rect x="741.5" y="310.0" width="7.5" height="3.5" fill="#eb4d5c"/>
<rect x="753.5" y="120.1" width="1.5" height="312.9" fill="#a9dcc3"/>
<rect x="750.5" y="259.6" width="7.5" height="173.4" fill="#53b987"/>
<rect x="762.5" y="256.4" width="1.5" height="41.2" fill="#f5a6ae"/>
<rect x="759.5" y="259.6" width="7.5" height="10.1" fill="#eb4d5c"/>
<rect x="771.5" y="256.4" width="1.5" height="43.6" fill="#f5a6ae"/>
<rect x="768.5" y="268.2" width="7.5" height="31.8" fill="#eb4d5c"/>
<rect x="780.5" y="294.7" width="1.5" height="134.0" fill="#f5a6ae"/>
<rect x="777.5" y="297.0" width="7.5" height="73.2" fill="#eb4d5c"/>
<rect x="789.5" y="349.5" width="1.5" height="113.9" fill="#f5a6ae"/>
<rect x="786.5" y="368.8" width="7.5" height="8.9" fill="#eb4d5c"/>
<rect x="798.5" y="345.2" width="1.5" height="50.4" fill="#a9dcc3"/>
<rect x="795.5" y="373.4" width="7.5" height="4.3" fill="#53b987"/>
<rect x="807.5" y="348.0" width="1.5" height="34.6" fill="#a9dcc3"/>
<rect x="804.5" y="367.6" width="7.5" height="7.2" fill="#53b987"/>
<rect x="816.5" y="329.9" width="1.5" height="38.9" fill="#a9dcc3"/>
<rect x="813.5" y="334.5" width="7.5" height="34.3" fill="#53b987"/>
<rect x="825.5" y="334.5" width="1.5" height="45.2" fill="#f5a6ae"/>
<rect x="822.5" y="334.5" width="7.5" height="32.3" fill="#eb4d5c"/>
<rect x="834.5" y="353.8" width="1.5" height="58.7" fill="#f5a6ae"/>
<rect x="831.5" y="365.9" width="7.5" height="21.0" fill="#eb4d5c"/>
<rect x="843.5" y="378.3" width="1.5" height="38.2" fill="#f5a6ae"/>
<rect x="840.5" y="385.5" width="7.5" height="7.2" fill="#eb4d5c"/>
<rect x="852.5" y="370.0" width="1.5" height="30.4" fill="#a9dcc3"/>
<rect x="849.5" y="370.0" width="7.5" height="23.8" fill="#53b987"/>
<rect x="861.5" y="354.7" width="1.5" height="26.0" fill="#f5a6ae"/>
<rect x="858.5" y="370.0" width="7.5" height="4.0" fill="#eb4d5c"/>
<rect x="870.5" y="364.0" width="1.5" height="28.8" fill="#a9dcc3"/>
<rect x="867.5" y="373.5" width="7.5" height="1.4" fill="#53b987"/>
<rect x="879.5" y="353.3" width="1.5" height="25.9" fill="#a9dcc3"/>
<rect x="876.5" y="356.8" width="7.5" height="18.1" fill="#53b987"/>
<rect x="888.5" y="317.9" width="1.5" height="40.6" fill="#a9dcc3"/>
<rect x="885.5" y="321.0" width="7.5" height="37.5" fill="#53b987"/>
<rect x="897.5" y="317.9" width="1.5" height="21.0" fill="#f5a6ae"/>
<rect x="894.5" y="321.0" width="7.5" height="16.5" fill="#eb4d5c"/>
<rect x="906.5" y="332.6" width="1.5" height="48.1" fill="#f5a6ae"/>
<rect x="903.5" y="336.0" width="7.5" height="35.4" fill="#eb4d5c"/>
<rect x="915.5" y="353.3" width="1.5" height="30.2" fill="#a9dcc3"/>
<rect x="912.5" y="358.5" width="7.5" height="14.4" fill="#53b987"/>
<rect x="924.5" y="343.2" width="1.5" height="69.3" fill="#f5a6ae"/>
<rect x="921.5" y="358.5" width="7.5" height="31.4" fill="#eb4d5c"/>
<rect x="933.5" y="388.4" width="1.5" height="90.1" fill="#f5a6ae"/>
<rect x="930.5" y="388.4" width="7.5" height="29.8" fill="#eb4d5c"/>
<rect x="942.5" y="391.6" width="1.5" height="48.8" fill="#a9dcc3"/>
<rect x="939.5" y="398.8" width="7.5" height="19.4" fill="#53b987"/>
<rect x="951.5" y="398.8" width="1.5" height="62.7" fill="#f5a6ae"/>
<rect x="948.5" y="398.8" width="7.5" height="50.9" fill="#eb4d5c"/>
<rect x="960.5" y="437.8" width="1.5" height="71.7" fill="#f5a6ae"/>
<rect x="957.5" y="448.4" width="7.5" height="44.8" fill="#eb4d5c"/>
<rect x="969.5" y="451.2" width="1.5" height="78.8" fill="#a9dcc3"/>
<rect x="966.5" y="459.0" width="7.5" height="34.2" fill="#53b987"/>
<rect x="978.5" y="429.0" width="1.5" height="50.3" fill="#f5a6ae"/>
<rect x="975.5" y="459.0" width="7.5" height="8.6" fill="#eb4d5c"/>
<rect x="987.5" y="433.7" width="1.5" height="35.6" fill="#a9dcc3"/>
<rect x="984.5" y="444.0" width="7.5" height="23.6" fill="#53b987"/>
<rect x="996.5" y="424.0" width="1.5" height="30.1" fill="#a9dcc3"/>
<rect x="993.5" y="426.0" width="7.5" height="20.8" fill="#53b987"/>
<rect x="1005.5" y="413.8" width="1.5" height="27.4" fill="#f5a6ae"/>
<rect x="1002.5" y="425.9" width="7.5" height="8.6" fill="#eb4d5c"/>
<rect x="1014.5" y="431.9" width="1.5" height="23.7" fill="#f5a6ae"/>
<rect x="1011.5" y="431.9" width="7.5" height="16.5" fill="#eb4d5c"/>
<rect x="1023.5" y="425.9" width="1.5" height="24.5" fill="#a9dcc3"/>
<rect x="1020.5" y="430.5" width="7.5" height="17.9" fill="#53b987"/>
<rect x="1032.5" y="429.0" width="1.5" height="14.2" fill="#f5a6ae"/>
<rect x="1029.5" y="430.5" width="7.5" height="10.1" fill="#eb4d5c"/>
<rect x="1041.5" y="415.2" width="1.5" height="22.5" fill="#a9dcc3"/>
<rect x="1038.5" y="415.2" width="7.5" height="22.5" fill="#53b987"/>
<rect x="1050.5" y="405.2" width="1.5" height="15.8" fill="#a9dcc3"/>
<rect x="1047.5" y="413.8" width="7.5" height="2.9" fill="#53b987"/>
<rect x="1059.5" y="406.6" width="1.5" height="13.0" fill="#a9dcc3"/>
<rect x="1056.5" y="409.5" width="7.5" height="5.7" fill="#53b987"/>
<rect x="1068.5" y="396.0" width="1.5" height="14.8" fill="#a9dcc3"/>
<rect x="1065.5" y="396.0" width="7.5" height="14.8" fill="#53b987"/>
<rect x="1077.5" y="396.0" width="1.5" height="20.8" fill="#f5a6ae"/>
<rect x="1074.5" y="396.0" width="7.5" height="20.8" fill="#eb4d5c"/>
<rect x="1086.5" y="404.6" width="1.5" height="12.2" fill="#a9dcc3"/>
<rect x="1083.5" y="409.6" width="7.5" height="7.2" fill="#53b987"/>
<rect x="1095.5" y="402.3" width="1.5" height="25.3" fill="#f5a6ae"/>
<rect x="1092.5" y="409.6" width="7.5" height="16.2" fill="#eb4d5c"/>
<rect x="1104.5" y="417.3" width="1.5" height="32.7" fill="#f5a6ae"/>
<rect x="1101.5" y="424.6" width="7.5" height="14.6" fill="#eb4d5c"/>
<rect x="1113.5" y="427.6" width="1.5" height="28.2" fill="#f5a6ae"/>
<rect x="1110.5" y="438.0" width="7.5" height="13.4" fill="#eb4d5c"/>
<rect x="1122.5" y="426.5" width="1.5" height="29.3" fill="#a9dcc3"/>
<rect x="1119.5" y="433.9" width="7.5" height="17.5" fill="#53b987"/>
<rect x="1131.5" y="433.9" width="1.5" height="14.5" fill="#f5a6ae"/>
<rect x="1128.5" y="433.9" width="7.5" height="8.3" fill="#eb4d5c"/>
<rect x="1140.5" y="433.4" width="1.5" height="12.2" fill="#a9dcc3"/>
<rect x="1137.5" y="438.0" width="7.5" height="4.2" fill="#53b987"/>
<rect x="1149.5" y="426.0" width="1.5" height="13.2" fill="#a9dcc3"/>
<rect x="1146.5" y="430.6" width="7.5" height="8.6" fill="#53b987"/>
<rect x="1158.5" y="421.2" width="1.5" height="10.6" fill="#a9dcc3"/>
<rect x="1155.5" y="427.6" width="7.5" height="4.2" fill="#53b987"/>
<rect x="1167.5" y="421.2" width="1.5" height="13.8" fill="#f5a6ae"/>
<rect x="1164.5" y="427.6" width="7.5" height="7.4" fill="#eb4d5c"/>
<rect x="1176.5" y="424.2" width="1.5" height="10.8" fill="#a9dcc3"/>
<rect x="1173.5" y="428.8" width="7.5" height="6.2" fill="#53b987"/>
<rect x="1185.5" y="428.8" width="1.5" height="6.9" fill="#f5a6ae"/>
<rect x="1182.5" y="428.8" width="7.5" height="6.9" fill="#eb4d5c"/>
<rect x="1194.5" y="430.4" width="1.5" height="7.1" fill="#f5a6ae"/>
<rect x="1191.5" y="434.5" width="7.5" height="3.0" fill="#eb4d5c"/>
<rect x="1203.5" y="432.2" width="1.5" height="7.4" fill="#a9dcc3"/>
<rect x="1200.5" y="432.2" width="7.5" height="5.3" fill="#53b987"/>
<rect x="1212.5" y="430.0" width="1.5" height="7.5" fill="#f5a6ae"/>
<rect x="1209.5" y="432.2" width="7.5" height="5.3" fill="#eb4d5c"/>
<rect x="1221.5" y="436.9" width="1.5" height="15.6" fill="#f5a6ae"/>
<rect x="1218.5" y="436.9" width="7.5" height="12.6" fill="#eb4d5c"/>
<rect x="1230.5" y="444.9" width="1.5" height="31.6" fill="#f5a6ae"/>
<rect x="1227.5" y="450.0" width="7.5" height="17.5" fill="#eb4d5c"/>
<rect x="1239.5" y="459.2" width="1.5" height="26.1" fill="#f5a6ae"/>
<rect x="1236.5" y="468.0" width="7.5" height="16.1" fill="#eb4d5c"/>
<rect x="1248.5" y="472.1" width="1.5" height="28.6" fill="#a9dcc3"/>
<rect x="1245.5" y="474.2" width="7.5" height="9.9" fill="#53b987"/>
<rect x="1257.5" y="468.0" width="1.5" height="22.3" fill="#f5a6ae"/>
<rect x="1254.5" y="474.2" width="7.5" height="16.1" fill="#eb4d5c"/>
<rect x="1266.5" y="472.1" width="1.5" height="22.4" fill="#a9dcc3"/>
<rect x="1263.5" y="477.2" width="7.5" height="13.1" fill="#53b987"/>
<rect x="1275.5" y="470.7" width="1.5" height="19.6" fill="#f5a6ae"/>
<rect x="1272.5" y="477.2" width="7.5" height="8.5" fill="#eb4d5c"/>
<rect x="1284.5" y="478.3" width="1.5" height="12.0" fill="#f5a6ae"/>
<rect x="1281.5" y="484.6" width="7.5" height="4.1" fill="#eb4d5c"/>
<rect x="1293.5" y="483.0" width="1.5" height="38.5" fill="#f5a6ae"/>
<rect x="1290.5" y="487.6" width="7.5" height="25.3" fill="#eb4d5c"/>
<rect x="1302.5" y="508.2" width="1.5" height="16.1" fill="#a9dcc3"/>
<rect x="1299.5" y="511.2" width="7.5" height="1.6" fill="#53b987"/>
<rect x="1311.5" y="507.1" width="1.5" height="13.4" fill="#f5a6ae"/>
<rect x="1308.5" y="511.7" width="7.5" height="4.0" fill="#eb4d5c"/>
<rect x="1320.5" y="510.3" width="1.5" height="21.9" fill="#f5a6ae"/>
<rect x="1317.5" y="514.4" width="7.5" height="17.8" fill="#eb4d5c"/>
<rect x="1329.5" y="529.0" width="1.5" height="33.2" fill="#f5a6ae"/>
<rect x="1326.5" y="530.9" width="7.5" height="4.3" fill="#eb4d5c"/>
<rect x="1338.5" y="526.2" width="1.5" height="15.0" fill="#a9dcc3"/>
<rect x="1335.5" y="530.0" width="7.5" height="5.2" fill="#53b987"/>
<rect x="1347.5" y="522.5" width="1.5" height="16.8" fill="#a9dcc3"/>
<rect x="1344.5" y="526.8" width="7.5" height="3.7" fill="#53b987"/>
<rect x="1356.5" y="515.9" width="1.5" height="16.9" fill="#f5a6ae"/>
<rect x="1353.5" y="526.8" width="7.5" height="2.2" fill="#eb4d5c"/>
<rect x="1365.5" y="523.4" width="1.5" height="17.8" fill="#f5a6ae"/>
<rect x="1362.5" y="528.1" width="7.5" height="7.1" fill="#eb4d5c"/>
<rect x="1374.5" y="532.8" width="1.5" height="15.9" fill="#a9dcc3"/>
<rect x="1371.5" y="532.8" width="7.5" height="2.4" fill="#53b987"/>
<rect x="1383.5" y="532.8" width="1.5" height="9.9" fill="#f5a6ae"/>
<rect x="1380.5" y="532.8" width="7.5" height="9.9" fill="#eb4d5c"/>
<rect x="1392.5" y="535.6" width="1.5" height="7.1" fill="#a9dcc3"/>
<rect x="1389.5" y="538.9" width="7.5" height="2.3" fill="#53b987"/>
<rect x="1401.5" y="540.3" width="1.5" height="17.2" fill="#f5a6ae"/>
<rect x="1398.5" y="540.3" width="7.5" height="12.7" fill="#eb4d5c"/>
<rect x="1410.5" y="550.6" width="1.5" height="14.6" fill="#f5a6ae"/>
<rect x="1407.5" y="552.1" width="7.5" height="13.1" fill="#eb4d5c"/>
<rect x="1419.5" y="558.1" width="1.5" height="7.4" fill="#f5a6ae"/>
<rect x="1416.5" y="564.1" width="7.5" height="1.4" fill="#eb4d5c"/>
<rect x="1428.5" y="562.2" width="1.5" height="22.5" fill="#f5a6ae"/>
<rect x="1425.5" y="564.1" width="7.5" height="20.6" fill="#eb4d5c"/>
<rect x="1437.5" y="574.5" width="1.5" height="16.3" fill="#a9dcc3"/>
<rect x="1434.5" y="580.5" width="7.5" height="4.2" fill="#53b987"/>
<rect x="1446.5" y="573.2" width="1.5" height="8.6" fill="#a9dcc3"/>
<rect x="1443.5" y="580.2" width="7.5" height="1.6" fill="#53b987"/>
<rect x="1455.5" y="579.6" width="1.5" height="11.0" fill="#f5a6ae"/>
<rect x="1452.5" y="580.6" width="7.5" height="5.8" fill="#eb4d5c"/>
<rect x="1464.5" y="580.4" width="1.5" height="5.7" fill="#a9dcc3"/>
<rect x="1461.5" y="583.7" width="7.5" height="2.4" fill="#53b987"/>
<rect x="1473.5" y="570.3" width="1.5" height="14.5" fill="#a9dcc3"/>
<rect x="1470.5" y="573.1" width="7.5" height="11.7" fill="#53b987"/>
<rect x="1482.5" y="573.1" width="1.5" height="14.5" fill="#f5a6ae"/>
<rect x="1479.5" y="573.1" width="7.5" height="13.0" fill="#eb4d5c"/>
<rect x="1491.5" y="581.5" width="1.5" height="4.5" fill="#a9dcc3"/>
<rect x="1488.5" y="581.5" width="7.5" height="4.5" fill="#53b987"/>
<rect x="1500.5" y="583.9" width="1.5" height="5.2" fill="#f5a6ae"/>
<rect x="1497.5" y="583.9" width="7.5" height="5.2" fill="#eb4d5c"/>
<rect x="1509.5" y="580.4" width="1.5" height="8.7" fill="#a9dcc3"/>
<rect x="1506.5" y="583.9" width="7.5" height="5.2" fill="#53b987"/>
<rect x="1518.5" y="576.1" width="1.5" height="8.2" fill="#a9dcc3"/>
<rect x="1515.5" y="577.8" width="7.5" height="6.5" fill="#53b987"/>
<rect x="1527.5" y="567.5" width="1.5" height="15.7" fill="#f5a6ae"/>
<rect x="1524.5" y="577.4" width="7.5" height="3.0" fill="#eb4d5c"/>
<rect x="1536.5" y="573.5" width="1.5" height="6.9" fill="#a9dcc3"/>
<rect x="1533.5" y="574.6" width="7.5" height="5.8" fill="#53b987"/>
<rect x="1545.5" y="568.8" width="1.5" height="6.9" fill="#a9dcc3"/>
<rect x="1542.5" y="570.3" width="7.5" height="4.3" fill="#53b987"/>
<rect x="1554.5" y="547.1" width="1.5" height="27.1" fill="#a9dcc3"/>
<rect x="1551.5" y="549.3" width="7.5" height="22.1" fill="#53b987"/>
<rect x="1563.5" y="537.2" width="1.5" height="13.8" fill="#a9dcc3"/>
<rect x="1560.5" y="549.3" width="7.5" height="1.7" fill="#53b987"/>
<rect x="1572.5" y="541.1" width="1.5" height="9.5" fill="#a9dcc3"/>
<rect x="1569.5" y="549.3" width="7.5" height="1.3" fill="#53b987"/>
<line x1="14" y1="549.8" x2="1624" y2="549.8" stroke="#4fb283" stroke-width="1.15" stroke-dasharray="1.5,1.2"/>
<path d="M16.2 603.5C23.2 603.7 46.6 604.1 60.0 604.5C73.4 604.9 85.6 605.6 100.0 606.0C114.4 606.4 134.0 606.8 150.0 607.0C166.0 607.2 188.0 607.0 200.0 607.0C212.0 607.0 218.3 606.8 225.0 606.7C231.7 606.6 234.8 606.8 241.7 606.5C248.6 606.2 259.8 605.1 268.3 604.6C276.8 604.1 286.1 604.0 294.8 603.3C303.5 602.6 313.8 601.4 322.7 600.5C331.6 599.6 341.7 598.5 350.6 597.7C359.5 596.9 371.4 596.3 378.5 595.6C385.6 594.9 389.7 593.5 395.2 593.1C400.7 592.7 406.7 593.5 413.0 593.1C419.3 592.7 430.0 591.1 434.3 590.7C438.6 590.3 434.9 591.1 440.0 590.5C445.1 589.9 459.2 587.9 466.3 587.0C473.4 586.1 477.0 586.1 484.2 584.7C491.4 583.3 502.6 580.5 511.2 578.4C519.8 576.3 530.9 573.1 538.1 571.4C545.3 569.7 549.1 569.2 556.3 567.7C563.5 566.2 574.7 564.2 583.3 562.1C591.9 560.0 601.6 556.9 610.2 554.4C618.8 551.9 628.6 549.3 637.2 546.7C645.8 544.1 655.6 540.8 664.2 538.1C672.8 535.4 683.1 533.2 691.2 530.0C699.3 526.8 707.2 521.8 715.0 518.0C722.8 514.2 733.4 509.6 740.0 506.0C746.6 502.4 749.5 499.4 756.1 495.7C762.7 492.0 773.0 486.5 781.5 483.0C790.0 479.5 800.4 477.2 809.2 473.8C818.0 470.4 830.3 464.4 836.8 461.8C843.3 459.2 843.0 459.7 850.0 457.6C857.0 455.5 869.7 452.2 880.3 448.4C890.9 444.6 906.3 437.2 916.3 434.0C926.3 430.8 934.5 429.7 943.1 428.2C951.7 426.7 961.4 426.2 970.1 424.5C978.8 422.8 990.0 419.1 997.2 417.5C1004.4 415.9 1009.3 416.1 1015.1 414.7C1020.9 413.3 1027.4 410.2 1033.2 408.9C1039.0 407.6 1045.3 407.4 1051.1 406.6C1056.9 405.8 1064.9 404.4 1069.2 403.7C1073.5 403.0 1073.9 402.8 1078.2 402.3C1082.5 401.8 1087.6 401.0 1096.2 400.7C1104.8 400.4 1122.1 401.1 1132.2 400.7C1142.3 400.3 1150.5 398.8 1159.1 398.1C1167.7 397.4 1177.5 397.0 1186.1 396.5C1194.7 396.0 1207.3 395.0 1213.1 394.7C1218.9 394.4 1217.7 394.4 1222.1 394.7C1226.5 395.0 1234.5 395.7 1240.3 396.5C1246.1 397.3 1251.0 398.3 1258.2 399.5C1265.4 400.7 1278.5 402.6 1285.2 404.1C1291.9 405.6 1295.8 407.4 1300.0 408.8C1304.2 410.2 1308.0 411.3 1311.3 412.7C1314.6 414.1 1318.0 416.4 1320.9 417.6C1323.8 418.8 1326.6 419.2 1329.7 420.5C1332.8 421.8 1337.2 424.5 1340.1 425.8C1343.0 427.1 1345.2 427.3 1348.0 428.4C1350.8 429.5 1354.7 431.8 1357.6 432.7C1360.5 433.6 1361.6 432.7 1366.3 434.0C1371.0 435.3 1378.3 437.9 1387.2 440.9C1396.1 443.9 1410.9 449.0 1422.1 452.8C1433.3 456.6 1450.2 462.5 1457.0 464.7C1463.8 466.9 1460.6 464.9 1464.8 466.8C1469.0 468.7 1477.5 473.9 1483.2 476.3C1488.9 478.7 1493.6 479.3 1500.6 481.6C1507.6 483.9 1519.8 488.8 1526.8 490.8C1533.8 492.8 1539.7 493.0 1544.2 493.8C1548.7 494.6 1551.4 495.2 1554.7 495.5C1558.0 495.8 1562.1 495.2 1565.1 495.5C1568.1 495.8 1572.2 497.0 1573.5 497.3" fill="none" stroke="#ff0000" stroke-width="1.0" stroke-linejoin="round" stroke-linecap="round"/>
<path d="M16.2 603.7C29.6 603.8 73.8 604.4 100.0 604.5C126.2 604.6 160.0 604.5 180.0 604.3C200.0 604.1 213.8 603.6 225.0 603.2C236.2 602.8 243.2 602.5 250.1 602.1C257.0 601.7 261.1 601.5 268.3 600.5C275.5 599.5 286.1 597.5 294.8 595.6C303.5 593.7 315.3 590.7 322.7 588.6C330.1 586.5 335.2 583.8 340.8 582.3C346.4 580.8 350.4 581.2 357.6 579.5C364.8 577.8 376.6 573.9 385.5 571.9C394.4 569.9 405.2 568.5 413.0 567.0C420.8 565.5 428.7 563.9 434.3 562.8C439.9 561.7 444.5 560.9 448.2 560.0C451.9 559.1 452.9 558.4 457.2 556.9C461.5 555.4 469.3 552.5 475.1 550.5C480.9 548.5 487.4 546.8 493.2 544.7C499.0 542.6 503.9 541.5 511.1 537.5C518.3 533.5 529.5 524.7 538.1 519.8C546.7 514.9 557.9 510.3 565.1 507.1C572.3 503.9 577.5 502.9 583.3 499.9C589.1 496.9 594.0 492.2 601.2 488.2C608.4 484.2 620.9 478.4 628.1 475.2C635.3 472.0 641.4 470.3 646.3 468.3C651.2 466.3 654.9 464.4 659.0 462.5C663.1 460.6 667.0 458.8 672.0 456.5C677.0 454.2 684.0 451.0 690.0 447.9C696.0 444.8 703.3 441.2 709.5 437.0C715.7 432.8 722.6 427.5 729.0 421.5C735.4 415.5 745.2 404.3 749.7 399.4C754.2 394.5 754.5 393.9 757.0 391.0C759.5 388.1 762.7 384.2 765.2 381.5C767.7 378.8 770.2 375.8 772.8 374.0C775.4 372.2 777.0 372.1 781.2 370.2C785.4 368.3 794.2 365.0 799.3 362.4C804.4 359.8 808.6 356.4 812.9 353.8C817.2 351.2 822.5 347.6 826.1 346.0C829.7 344.4 832.4 344.3 835.3 343.7C838.2 343.1 840.0 342.8 844.3 342.3C848.6 341.8 854.9 341.0 862.1 340.8C869.3 340.6 883.4 340.8 889.2 341.2C895.0 341.6 893.8 342.0 898.1 343.2C902.4 344.4 912.0 347.4 916.3 349.0C920.6 350.6 920.9 350.1 925.2 353.3C929.5 356.5 938.7 365.2 943.1 369.1C947.5 373.0 948.6 375.0 952.9 377.8C957.2 380.6 963.0 383.2 970.1 386.4C977.2 389.6 990.0 395.3 997.2 398.0C1004.4 400.7 1009.3 401.3 1015.1 403.1C1020.9 404.9 1027.4 408.0 1033.2 409.5C1039.0 411.0 1046.8 411.4 1051.1 412.4C1055.4 413.4 1055.7 413.7 1060.0 415.6C1064.3 417.5 1072.4 421.9 1078.2 424.2C1084.0 426.5 1090.4 428.3 1096.2 429.9C1102.0 431.5 1108.4 433.5 1114.2 434.1C1120.0 434.7 1126.5 434.0 1132.2 433.4C1137.9 432.8 1144.4 431.2 1150.1 430.4C1155.8 429.6 1158.0 428.5 1168.1 428.1C1178.2 427.7 1204.5 427.9 1213.1 428.1C1221.7 428.3 1219.2 428.8 1222.1 429.5C1225.0 430.2 1228.1 431.1 1231.0 432.2C1233.9 433.3 1235.9 434.5 1240.3 436.4C1244.7 438.3 1252.5 441.5 1258.2 443.8C1263.9 446.1 1271.9 449.4 1276.2 450.7C1280.5 452.0 1282.3 451.1 1285.2 451.8C1288.1 452.5 1291.3 453.6 1294.2 454.8C1297.1 456.0 1300.5 458.2 1303.2 459.4C1305.9 460.6 1308.5 461.2 1311.3 462.4C1314.1 463.6 1318.0 465.0 1320.9 466.7C1323.8 468.4 1326.8 471.2 1329.7 472.9C1332.6 474.6 1336.2 476.0 1339.2 477.5C1342.2 479.0 1345.3 480.4 1348.2 482.2C1351.1 484.0 1352.8 486.2 1357.1 488.7C1361.4 491.2 1370.8 495.4 1375.1 497.7C1379.4 500.0 1381.2 501.7 1384.1 503.3C1387.0 504.9 1390.2 506.3 1393.1 508.0C1396.0 509.7 1399.2 512.4 1402.1 514.0C1405.0 515.6 1408.2 517.2 1411.1 518.3C1414.0 519.4 1417.2 519.6 1420.1 521.0C1423.0 522.4 1426.4 525.1 1429.3 526.8C1432.2 528.5 1435.4 530.1 1438.3 531.8C1441.2 533.5 1444.3 535.6 1447.2 537.3C1450.1 539.0 1453.3 540.7 1456.2 542.2C1459.1 543.7 1462.2 545.2 1465.1 546.5C1468.0 547.8 1471.3 549.2 1474.2 550.4C1477.1 551.6 1478.9 552.5 1483.2 554.1C1487.5 555.7 1496.9 558.7 1501.2 560.1C1505.5 561.5 1507.4 562.4 1510.3 563.1C1513.2 563.8 1516.2 563.7 1519.1 564.4C1522.0 565.1 1525.3 566.7 1528.2 567.5C1531.1 568.3 1534.4 568.6 1537.3 569.2C1540.2 569.8 1543.3 571.0 1546.2 571.4C1549.1 571.8 1552.3 571.8 1555.2 572.0C1558.1 572.2 1561.2 572.2 1564.1 572.4C1567.0 572.6 1571.7 573.3 1573.2 573.5" fill="none" stroke="#3a3fb5" stroke-width="1.0" stroke-linejoin="round" stroke-linecap="round"/>
<path d="M16.2 603.7C22.0 604.2 39.1 606.6 52.5 606.9C65.9 607.2 85.6 606.0 100.0 605.8C114.4 605.6 129.7 605.8 142.5 605.5C155.3 605.2 168.6 604.5 180.0 604.0C191.4 603.5 205.5 603.2 214.0 602.5C222.5 601.8 227.2 600.2 233.0 599.7C238.8 599.2 243.1 600.2 250.1 599.1C257.1 598.0 269.4 594.8 276.6 593.1C283.8 591.4 287.4 591.6 294.8 588.6C302.2 585.6 313.8 578.5 322.7 574.4C331.6 570.3 342.8 565.8 350.6 562.8C358.4 559.8 365.9 556.7 371.5 555.8C377.1 554.9 378.9 556.9 385.5 557.2C392.1 557.5 407.4 557.5 413.0 557.9C418.6 558.3 417.6 559.9 420.3 560.0C423.0 560.1 425.6 558.6 430.1 558.6C434.6 558.6 443.9 560.1 448.2 560.0C452.5 559.9 452.9 560.3 457.2 558.2C461.5 556.1 467.8 552.6 475.1 546.6C482.4 540.6 495.4 528.3 502.6 520.6C509.8 512.9 514.5 506.5 520.2 498.6C525.9 490.7 533.8 476.4 538.1 471.3C542.4 466.2 542.9 467.8 547.2 466.9C551.5 466.0 559.3 466.1 565.1 465.6C570.9 465.1 578.9 464.0 583.3 463.6C587.7 463.2 588.6 462.3 592.9 463.0C597.2 463.7 604.6 466.7 610.2 468.0C615.8 469.3 622.3 471.8 628.1 471.3C633.9 470.8 640.4 468.0 646.3 464.9C652.2 461.8 659.2 456.4 665.0 451.9C670.8 447.4 677.0 442.6 682.6 436.8C688.2 431.0 696.0 422.1 700.2 415.7C704.4 409.3 704.8 405.3 709.1 397.0C713.4 388.7 721.2 372.9 727.0 363.9C732.8 354.9 740.9 347.0 745.2 340.8C749.5 334.6 751.2 329.7 754.1 325.0C757.0 320.3 760.3 314.7 763.3 311.4C766.3 308.1 769.9 305.1 772.8 304.2C775.7 303.3 778.4 304.8 781.2 305.7C784.0 306.6 787.2 307.8 790.1 310.0C793.0 312.2 796.4 316.8 799.3 319.2C802.2 321.6 805.4 323.6 808.3 325.0C811.2 326.4 814.4 326.3 817.2 327.9C820.0 329.5 823.2 331.4 826.1 335.1C829.0 338.8 832.4 346.3 835.3 350.9C838.2 355.5 841.4 360.7 844.3 363.9C847.2 367.1 850.3 369.9 853.2 371.1C856.1 372.3 859.9 371.7 862.7 371.7C865.5 371.7 868.2 371.4 871.0 371.0C873.8 370.6 877.4 370.3 880.3 369.1C883.2 367.9 884.9 364.1 889.2 363.4C893.5 362.7 903.0 365.0 907.3 364.8C911.6 364.6 913.4 362.4 916.3 361.9C919.2 361.4 920.9 360.7 925.2 361.9C929.5 363.1 938.7 366.3 943.1 369.1C947.5 371.9 950.0 375.0 952.9 379.2C955.8 383.4 958.4 390.0 961.2 395.1C964.0 400.2 967.2 406.3 970.1 410.9C973.0 415.5 976.2 420.4 979.1 423.9C982.0 427.4 984.0 429.5 988.3 432.5C992.6 435.5 1000.4 439.7 1006.2 442.6C1012.0 445.5 1020.0 449.3 1024.3 450.4C1028.6 451.5 1030.2 450.8 1033.2 449.2C1036.2 447.6 1040.1 443.0 1043.0 440.6C1045.9 438.2 1048.4 435.8 1051.1 434.0C1053.8 432.2 1057.1 431.1 1060.0 429.5C1062.9 427.9 1066.3 425.0 1069.2 424.0C1072.1 423.0 1073.9 424.0 1078.2 423.0C1082.5 422.0 1090.4 418.1 1096.2 417.7C1102.0 417.3 1109.7 419.6 1114.2 420.3C1118.7 421.0 1120.2 420.5 1124.5 421.9C1128.8 423.3 1135.6 427.0 1141.1 428.8C1146.6 430.6 1153.3 432.0 1159.1 433.4C1164.9 434.8 1171.3 437.0 1177.1 437.3C1182.9 437.6 1189.3 435.6 1195.1 435.2C1200.9 434.8 1208.6 434.3 1213.1 434.5C1217.6 434.7 1220.1 435.6 1223.0 436.4C1225.9 437.2 1228.2 437.6 1231.0 439.2C1233.8 440.8 1235.9 443.2 1240.3 446.1C1244.7 449.0 1253.9 454.5 1258.2 457.1C1262.5 459.7 1262.9 459.5 1267.2 462.2C1271.5 464.9 1280.9 470.6 1285.2 473.7C1289.5 476.8 1291.3 479.6 1294.2 481.8C1297.1 484.0 1300.2 485.8 1303.2 487.6C1306.2 489.4 1310.0 491.3 1312.9 493.3C1315.8 495.3 1317.0 497.4 1321.2 500.0C1325.4 502.6 1334.9 506.9 1339.2 509.3C1343.5 511.7 1345.3 513.4 1348.2 515.0C1351.1 516.6 1354.2 517.9 1357.1 519.6C1360.0 521.3 1363.2 524.4 1366.1 525.6C1369.0 526.8 1372.2 526.1 1375.1 526.8C1378.0 527.5 1381.2 529.0 1384.1 530.0C1387.0 531.0 1390.1 532.0 1393.1 533.1C1396.1 534.2 1400.1 535.8 1403.0 536.9C1405.9 538.0 1408.4 538.7 1411.1 539.7C1413.8 540.7 1417.2 541.4 1420.1 543.1C1423.0 544.8 1426.4 548.5 1429.3 550.6C1432.2 552.7 1435.4 554.6 1438.3 556.2C1441.2 557.8 1444.3 559.1 1447.2 560.8C1450.1 562.5 1453.3 565.2 1456.2 567.0C1459.1 568.8 1462.2 570.6 1465.1 572.0C1468.0 573.4 1471.3 574.5 1474.2 575.7C1477.1 576.9 1480.2 578.6 1483.2 579.6C1486.2 580.6 1490.1 581.7 1493.0 582.2C1495.9 582.7 1495.6 582.5 1501.2 582.6C1506.8 582.7 1522.4 582.8 1528.2 582.6C1534.0 582.4 1534.4 581.7 1537.3 581.1C1540.2 580.5 1543.3 579.7 1546.2 578.9C1549.1 578.1 1552.3 577.0 1555.2 576.1C1558.1 575.2 1561.2 574.2 1564.1 573.1C1567.0 572.0 1571.7 569.8 1573.2 569.2" fill="none" stroke="#9013fe" stroke-width="1.15" stroke-linejoin="round" stroke-linecap="round"/>
<circle cx="52.5" cy="606.9" r="4.9" fill="#d9d9d9" stroke="#6a6a6a" stroke-width="1.2"/>
<circle cx="142.5" cy="605.5" r="4.9" fill="#d9d9d9" stroke="#6a6a6a" stroke-width="1.2"/>
<circle cx="232.6" cy="599.7" r="4.9" fill="#d9d9d9" stroke="#6a6a6a" stroke-width="1.2"/>
<circle cx="322.7" cy="574.4" r="4.9" fill="#d9d9d9" stroke="#6a6a6a" stroke-width="1.2"/>
<circle cx="412.8" cy="559.3" r="4.9" fill="#d9d9d9" stroke="#6a6a6a" stroke-width="1.2"/>
<circle cx="502.6" cy="520.6" r="4.9" fill="#d9d9d9" stroke="#6a6a6a" stroke-width="1.2"/>
<circle cx="592.9" cy="463.0" r="4.9" fill="#d9d9d9" stroke="#6a6a6a" stroke-width="1.2"/>
<circle cx="682.6" cy="436.8" r="4.9" fill="#d9d9d9" stroke="#6a6a6a" stroke-width="1.2"/>
<circle cx="772.8" cy="304.2" r="4.9" fill="#d9d9d9" stroke="#6a6a6a" stroke-width="1.2"/>
<circle cx="862.5" cy="372.0" r="4.9" fill="#d9d9d9" stroke="#6a6a6a" stroke-width="1.2"/>
<circle cx="952.9" cy="379.2" r="4.9" fill="#d9d9d9" stroke="#6a6a6a" stroke-width="1.2"/>
<circle cx="1043.0" cy="440.6" r="4.9" fill="#d9d9d9" stroke="#6a6a6a" stroke-width="1.2"/>
<circle cx="1133.3" cy="426.0" r="4.9" fill="#d9d9d9" stroke="#6a6a6a" stroke-width="1.2"/>
<circle cx="1223.0" cy="436.4" r="4.9" fill="#d9d9d9" stroke="#6a6a6a" stroke-width="1.2"/>
<circle cx="1312.8" cy="493.4" r="4.9" fill="#d9d9d9" stroke="#6a6a6a" stroke-width="1.2"/>
<circle cx="1403.0" cy="536.9" r="4.9" fill="#d9d9d9" stroke="#6a6a6a" stroke-width="1.2"/>
<circle cx="1493.0" cy="582.2" r="4.9" fill="#d9d9d9" stroke="#6a6a6a" stroke-width="1.2"/>
<line x1="14" y1="348.6" x2="1624" y2="348.6" stroke="#9c9c9c" stroke-width="1" stroke-dasharray="6,5.3"/>
<line x1="1061.7" y1="93" x2="1061.7" y2="643" stroke="#8c8c8c" stroke-width="1" stroke-dasharray="7,6"/>
</g>
<text transform="translate(32.18,618.3) scale(1.0155,1)" font-size="38.12" font-family="Liberation Sans, sans-serif" font-weight="bold" fill="#3e4757" stroke="#3e4757" stroke-width="1.0" stroke-linejoin="miter">D</text>
<text transform="translate(67.27,617.8) scale(0.8582,1)" font-size="36.67" font-family="Liberation Sans, sans-serif" font-weight="bold" fill="#3e4757" stroke="#3e4757" stroke-width="2.0" stroke-linejoin="miter">A</text>
<rect x="100" y="591.5" width="7" height="27.3" fill="#3e4757"/><rect x="102.8" y="585" width="1.5" height="39" fill="#3e4757"/>
<text transform="translate(115.39,617.8) scale(0.8863,1)" font-size="36.67" font-family="Liberation Sans, sans-serif" font-weight="bold" fill="#3e4757" stroke="#3e4757" stroke-width="2.0" stroke-linejoin="miter">L</text>
<text transform="translate(139.81,617.8) scale(0.8948,1)" font-size="36.67" font-family="Liberation Sans, sans-serif" font-weight="bold" fill="#3e4757" stroke="#3e4757" stroke-width="2.0" stroke-linejoin="miter">Y</text>
<text transform="translate(166.09,618.5) scale(1.2363,1)" font-size="38.7" font-family="Liberation Sans, sans-serif" font-weight="bold" fill="url(#fx)" stroke="url(#fx)" stroke-width="0.6" stroke-linejoin="miter">F</text>
<text transform="translate(199.57,618.5) scale(1.1993,1)" font-size="38.7" font-family="Liberation Sans, sans-serif" font-weight="bold" fill="url(#fx)" stroke="url(#fx)" stroke-width="0.6" stroke-linejoin="miter">X</text>
<rect x="14" y="642.3" width="1611" height="2" fill="#555"/>
<rect x="1623.5" y="93" width="1.6" height="551" fill="#555"/>
<rect x="1625" y="158.6" width="4" height="1.4" fill="#555"/>
<text transform="translate(1633.75,166.6) scale(1.0289,1)" font-size="16.2" font-family="Liberation Sans, sans-serif" fill="#555">1400.00</text>
<rect x="1625" y="236.8" width="4" height="1.4" fill="#555"/>
<text transform="translate(1633.75,244.8) scale(1.0289,1)" font-size="16.2" font-family="Liberation Sans, sans-serif" fill="#555">1200.00</text>
<rect x="1625" y="314.9" width="4" height="1.4" fill="#555"/>
<text transform="translate(1633.75,322.9) scale(1.0289,1)" font-size="16.2" font-family="Liberation Sans, sans-serif" fill="#555">1000.00</text>
<rect x="1625" y="393.1" width="4" height="1.4" fill="#555"/>
<text transform="translate(1634.34,401.1) scale(1.0121,1)" font-size="16.2" font-family="Liberation Sans, sans-serif" fill="#555">800.00</text>
<rect x="1625" y="471.3" width="4" height="1.4" fill="#555"/>
<text transform="translate(1634.18,479.3) scale(1.0155,1)" font-size="16.2" font-family="Liberation Sans, sans-serif" fill="#555">600.00</text>
<rect x="1625" y="627.6" width="4" height="1.4" fill="#555"/>
<text transform="translate(1634.18,635.6) scale(1.0155,1)" font-size="16.2" font-family="Liberation Sans, sans-serif" fill="#555">200.00</text>
<rect x="97.8" y="644" width="1.6" height="4.6" fill="#555"/>
<text transform="translate(82.33,665.7) scale(1.0448,1)" font-size="16.4" font-family="Liberation Sans, sans-serif" fill="#555">Nov</text>
<rect x="214.8" y="644" width="1.6" height="4.6" fill="#555"/>
<text transform="translate(205.77,665.7) scale(1.0010,1)" font-size="16.4" font-family="Liberation Sans, sans-serif" fill="#555">14</text>
<rect x="367.8" y="644" width="1.6" height="4.6" fill="#555"/>
<text transform="translate(352.72,665.7) scale(1.0531,1)" font-size="16.4" font-family="Liberation Sans, sans-serif" fill="#555">Déc</text>
<rect x="520.8" y="644" width="1.6" height="4.6" fill="#555"/>
<text transform="translate(511.93,665.7) scale(1.0345,1)" font-size="16.4" font-family="Liberation Sans, sans-serif" fill="#555">18</text>
<rect x="646.8" y="644" width="1.6" height="4.6" fill="#555"/>
<text transform="translate(628.60,665.7) scale(1.0067,1)" font-size="16.4" font-family="Liberation Sans, sans-serif" font-weight="bold" fill="#555">2018</text>
<rect x="772.8" y="644" width="1.6" height="4.6" fill="#555"/>
<text transform="translate(764.14,665.7) scale(1.0222,1)" font-size="16.4" font-family="Liberation Sans, sans-serif" fill="#555">15</text>
<rect x="925.8" y="644" width="1.6" height="4.6" fill="#555"/>
<text transform="translate(908.64,665.7) scale(1.0360,1)" font-size="16.4" font-family="Liberation Sans, sans-serif" fill="#555">Févr</text>
<rect x="1177.8" y="644" width="1.6" height="4.6" fill="#555"/>
<text transform="translate(1159.06,665.7) scale(1.0215,1)" font-size="16.4" font-family="Liberation Sans, sans-serif" fill="#555">Mars</text>
<rect x="1339.8" y="644" width="1.6" height="4.6" fill="#555"/>
<text transform="translate(1330.60,665.7) scale(1.0581,1)" font-size="16.4" font-family="Liberation Sans, sans-serif" fill="#555">19</text>
<rect x="1456.8" y="644" width="1.6" height="4.6" fill="#555"/>
<text transform="translate(1445.00,665.7) scale(1.0295,1)" font-size="16.4" font-family="Liberation Sans, sans-serif" fill="#555">Avr</text>
<rect x="1591.8" y="644" width="1.6" height="4.6" fill="#555"/>
<text transform="translate(1582.61,665.7) scale(1.0528,1)" font-size="16.4" font-family="Liberation Sans, sans-serif" fill="#555">16</text>
<rect x="1623.5" y="337.7" width="67.3" height="23.3" fill="#555"/>
<text transform="translate(1633.44,355.8) scale(1.0487,1)" font-size="16.2" font-family="Liberation Sans, sans-serif" fill="#fff" stroke="#fff" stroke-width="0.35">914.46</text>
<rect x="1013" y="643" width="95.8" height="28.8" fill="#555"/>
<rect x="1061" y="644" width="1.4" height="4.6" fill="#ddd"/>
<text transform="translate(1017.96,666.1) scale(1.0168,1)" font-size="16.6" font-family="Liberation Sans, sans-serif" fill="#fff" stroke="#fff" stroke-width="0.3">2018-02-16</text>
<rect x="1623.5" y="538.6" width="67.3" height="23.6" fill="#53b987"/>
<rect x="1625" y="549.1" width="4" height="1.4" fill="#fff"/>
<text transform="translate(1633.87,556.9) scale(1.0108,1)" font-size="16.2" font-family="Liberation Sans, sans-serif" fill="#fff" stroke="#fff" stroke-width="0.35">401.21</text>
<rect x="22.8" y="111.8" width="17.3" height="17.2" rx="2.6" fill="#fff" stroke="#6b6b6b" stroke-width="1.4"/><rect x="25.2" y="119.7" width="12.7" height="1.4" fill="#6b6b6b"/>
<text transform="translate(49.49,130.4) scale(0.8744,1)" font-size="25.9" font-family="Liberation Sans, sans-serif" fill="#4a4a4a">ETHEUR,</text>
<text transform="translate(156.39,130.4) scale(0.9697,1)" font-size="25.9" font-family="Liberation Sans, sans-serif" fill="#4a4a4a">D,</text>
<text transform="translate(189.75,130.4) scale(0.8454,1)" font-size="25.9" font-family="Liberation Sans, sans-serif" fill="#4a4a4a">KRAKEN</text>
<path d="M285.5 119.3H297L291.25 124.7Z" fill="#c4c4c4"/>
<rect x="312.1" y="111.1" width="20.8" height="20.8" fill="#808080" fill-opacity="0.3"/><path d="M314.80 121.60C316.90 118.00 319.30 115.10 322.50 115.10S328.10 118.00 330.20 121.60C328.10 125.20 325.70 128.10 322.50 128.10S316.90 125.20 314.80 121.60Z" fill="#fff"/><circle cx="322.50" cy="121.60" r="3.1" fill="none" stroke="#d4d4d4" stroke-width="2.2"/>
<text transform="translate(344.60,130.8) scale(0.8850,1)" font-size="22.6" font-family="Liberation Sans, sans-serif" fill="#4a4a4a">O</text>
<text transform="translate(362.21,130.8) scale(0.9618,1)" font-size="22.6" font-family="Liberation Sans, sans-serif" fill="#53b987">745.33</text>
<text transform="translate(443.70,130.8) scale(0.8850,1)" font-size="22.6" font-family="Liberation Sans, sans-serif" fill="#4a4a4a">H</text>
<text transform="translate(460.61,130.8) scale(0.9664,1)" font-size="22.6" font-family="Liberation Sans, sans-serif" fill="#53b987">759.99</text>
<text transform="translate(541.46,130.8) scale(0.8519,1)" font-size="22.6" font-family="Liberation Sans, sans-serif" fill="#4a4a4a">B</text>
<text transform="translate(556.82,130.8) scale(0.9528,1)" font-size="22.6" font-family="Liberation Sans, sans-serif" fill="#53b987">730.25</text>
<text transform="translate(637.27,130.8) scale(0.8222,1)" font-size="22.6" font-family="Liberation Sans, sans-serif" fill="#4a4a4a">C</text>
<text transform="translate(654.02,130.8) scale(0.9560,1)" font-size="22.6" font-family="Liberation Sans, sans-serif" fill="#53b987">756.11</text>
<text transform="translate(22.30,158.8) scale(0.9854,1)" font-size="18" font-family="Liberation Sans, sans-serif" fill="#4a4a4a">Vol (20)</text>
<path d="M89.4 150.10000000000002H100.60000000000001L95.0 155.70000000000002Z" fill="#c4c4c4"/>
<rect x="116.2" y="142.1" width="20.7" height="20.7" fill="#808080" fill-opacity="0.3"/><path d="M118.85 152.55C120.95 148.95 123.35 146.05 126.55 146.05S132.15 148.95 134.25 152.55C132.15 156.15 129.75 159.05 126.55 159.05S120.95 156.15 118.85 152.55Z" fill="#fff"/><circle cx="126.55" cy="152.55" r="3.1" fill="none" stroke="#d4d4d4" stroke-width="2.2"/>
<rect x="142.1" y="142.1" width="20.7" height="20.7" fill="#808080" fill-opacity="0.3"/><rect x="150.75" y="144.65" width="3.4" height="15.6" fill="#fff" transform="rotate(0 152.45 152.45)"/><rect x="150.75" y="144.65" width="3.4" height="15.6" fill="#fff" transform="rotate(45 152.45 152.45)"/><rect x="150.75" y="144.65" width="3.4" height="15.6" fill="#fff" transform="rotate(90 152.45 152.45)"/><rect x="150.75" y="144.65" width="3.4" height="15.6" fill="#fff" transform="rotate(135 152.45 152.45)"/><circle cx="152.45" cy="152.45" r="6" fill="#fff"/><circle cx="152.45" cy="152.45" r="3.3" fill="#d6d6d6"/>
<rect x="167.3" y="142.1" width="20.7" height="20.7" fill="#808080" fill-opacity="0.3"/><path d="M171.50 146.30L183.80 158.60M183.80 146.30L171.50 158.60" stroke="#fff" stroke-width="2.2" fill="none"/>
<text transform="translate(20.74,188.8) scale(0.9928,1)" font-size="18" font-family="Liberation Sans, sans-serif" font-weight="bold" fill="#4a4a4a">MA (9, close)</text>
<path d="M136.89999999999998 180.10000000000002H148.1L142.5 185.70000000000002Z" fill="#c4c4c4"/>
<rect x="162.9" y="171.8" width="20.7" height="20.7" fill="#808080" fill-opacity="0.3"/><path d="M165.55 182.25C167.65 178.65 170.05 175.75 173.25 175.75S178.85 178.65 180.95 182.25C178.85 185.85 176.45 188.75 173.25 188.75S167.65 185.85 165.55 182.25Z" fill="#fff"/><circle cx="173.25" cy="182.25" r="3.1" fill="none" stroke="#d4d4d4" stroke-width="2.2"/>
<rect x="188.8" y="171.8" width="20.7" height="20.7" fill="#808080" fill-opacity="0.3"/><rect x="197.45" y="174.35" width="3.4" height="15.6" fill="#fff" transform="rotate(0 199.15 182.15)"/><rect x="197.45" y="174.35" width="3.4" height="15.6" fill="#fff" transform="rotate(45 199.15 182.15)"/><rect x="197.45" y="174.35" width="3.4" height="15.6" fill="#fff" transform="rotate(90 199.15 182.15)"/><rect x="197.45" y="174.35" width="3.4" height="15.6" fill="#fff" transform="rotate(135 199.15 182.15)"/><circle cx="199.15" cy="182.15" r="6" fill="#fff"/><circle cx="199.15" cy="182.15" r="3.3" fill="#d6d6d6"/>
<rect x="214.0" y="171.8" width="20.7" height="20.7" fill="#808080" fill-opacity="0.3"/><path d="M218.20 176.00L230.50 188.30M230.50 176.00L218.20 188.30" stroke="#fff" stroke-width="2.2" fill="none"/>
<text transform="translate(20.47,218.8) scale(0.9952,1)" font-size="18" font-family="Liberation Sans, sans-serif" fill="#4a4a4a">MA (65, close)</text>
<path d="M141.2 210.10000000000002H152.4L146.8 215.70000000000002Z" fill="#c4c4c4"/>
<rect x="168.1" y="202" width="20.7" height="20.7" fill="#808080" fill-opacity="0.3"/><path d="M170.75 212.45C172.85 208.85 175.25 205.95 178.45 205.95S184.05 208.85 186.15 212.45C184.05 216.05 181.65 218.95 178.45 218.95S172.85 216.05 170.75 212.45Z" fill="#fff"/><circle cx="178.45" cy="212.45" r="3.1" fill="none" stroke="#d4d4d4" stroke-width="2.2"/>
<rect x="194.0" y="202" width="20.7" height="20.7" fill="#808080" fill-opacity="0.3"/><rect x="202.65" y="204.55" width="3.4" height="15.6" fill="#fff" transform="rotate(0 204.35 212.35)"/><rect x="202.65" y="204.55" width="3.4" height="15.6" fill="#fff" transform="rotate(45 204.35 212.35)"/><rect x="202.65" y="204.55" width="3.4" height="15.6" fill="#fff" transform="rotate(90 204.35 212.35)"/><rect x="202.65" y="204.55" width="3.4" height="15.6" fill="#fff" transform="rotate(135 204.35 212.35)"/><circle cx="204.35" cy="212.35" r="6" fill="#fff"/><circle cx="204.35" cy="212.35" r="3.3" fill="#d6d6d6"/>
<rect x="219.2" y="202" width="20.7" height="20.7" fill="#808080" fill-opacity="0.3"/><path d="M223.40 206.20L235.70 218.50M235.70 206.20L223.40 218.50" stroke="#fff" stroke-width="2.2" fill="none"/>
<text transform="translate(20.47,248.8) scale(0.9952,1)" font-size="18" font-family="Liberation Sans, sans-serif" fill="#4a4a4a">MA (20, close)</text>
<path d="M141.2 240.10000000000002H152.4L146.8 245.70000000000002Z" fill="#c4c4c4"/>
<rect x="168.1" y="232.2" width="20.7" height="20.7" fill="#808080" fill-opacity="0.3"/><path d="M170.75 242.65C172.85 239.05 175.25 236.15 178.45 236.15S184.05 239.05 186.15 242.65C184.05 246.25 181.65 249.15 178.45 249.15S172.85 246.25 170.75 242.65Z" fill="#fff"/><circle cx="178.45" cy="242.65" r="3.1" fill="none" stroke="#d4d4d4" stroke-width="2.2"/>
<rect x="194.0" y="232.2" width="20.7" height="20.7" fill="#808080" fill-opacity="0.3"/><rect x="202.65" y="234.75" width="3.4" height="15.6" fill="#fff" transform="rotate(0 204.35 242.55)"/><rect x="202.65" y="234.75" width="3.4" height="15.6" fill="#fff" transform="rotate(45 204.35 242.55)"/><rect x="202.65" y="234.75" width="3.4" height="15.6" fill="#fff" transform="rotate(90 204.35 242.55)"/><rect x="202.65" y="234.75" width="3.4" height="15.6" fill="#fff" transform="rotate(135 204.35 242.55)"/><circle cx="204.35" cy="242.55" r="6" fill="#fff"/><circle cx="204.35" cy="242.55" r="3.3" fill="#d6d6d6"/>
<rect x="219.2" y="232.2" width="20.7" height="20.7" fill="#808080" fill-opacity="0.3"/><path d="M223.40 236.40L235.70 248.70M235.70 236.40L223.40 248.70" stroke="#fff" stroke-width="2.2" fill="none"/>
<text transform="translate(199.33,158.8) scale(0.9692,1)" font-size="18" font-family="Liberation Sans, sans-serif" fill="#53b987">22.38K</text>
<text transform="translate(269.80,158.8) scale(0.9657,1)" font-size="18" font-family="Liberation Sans, sans-serif" fill="#ff9850">107.278K</text>
<text transform="translate(246.92,188.8) scale(0.9806,1)" font-size="18" font-family="Liberation Sans, sans-serif" fill="#9013fe">707.4100</text>
<text transform="translate(252.14,218.8) scale(0.9598,1)" font-size="18" font-family="Liberation Sans, sans-serif" fill="#ff0000">768.3191</text>
<text transform="translate(252.12,248.8) scale(0.9818,1)" font-size="18" font-family="Liberation Sans, sans-serif" fill="#2f2fb0">741.0325</text>
<text transform="translate(27.67,61.9) scale(0.8991,1)" font-size="22.8" font-family="Liberation Sans, sans-serif" font-weight="bold" fill="#444" text-rendering="geometricPrecision">ETHEUR</text>
<text transform="translate(182.06,62.7) scale(0.9319,1)" font-size="23.5" font-family="Liberation Sans, sans-serif" fill="#3c4252">1m</text>
<text transform="translate(233.33,62.7) scale(0.9306,1)" font-size="23.5" font-family="Liberation Sans, sans-serif" fill="#3c4252">30m</text>
<text transform="translate(296.76,62.7) scale(0.9329,1)" font-size="23.5" font-family="Liberation Sans, sans-serif" fill="#3c4252">1h</text>
<text transform="translate(341.93,62.7) scale(0.8868,1)" font-size="23.5" font-family="Liberation Sans, sans-serif" fill="#2196f3">D</text>
<path d="M374.6 51.4L380.20000000000005 57.0L385.8 51.4" fill="none" stroke="#3c4252" stroke-width="1.5"/>
<line x1="419.4" y1="43.0" x2="419.4" y2="67.6" stroke="#3c4252" stroke-width="1.5"/><line x1="419.4" y1="47.2" x2="424.5" y2="47.2" stroke="#3c4252" stroke-width="1.5"/><line x1="414.0" y1="63.7" x2="419.4" y2="63.7" stroke="#3c4252" stroke-width="1.5"/>
<line x1="431.8" y1="42.1" x2="431.8" y2="66.0" stroke="#3c4252" stroke-width="1.5"/><line x1="427.4" y1="53.0" x2="431.8" y2="53.0" stroke="#3c4252" stroke-width="1.5"/><line x1="431.8" y1="60.7" x2="437.0" y2="60.7" stroke="#3c4252" stroke-width="1.5"/>
<rect x="461.4" y="44.0" width="6.3" height="19.8" fill="none" stroke="#2196f3" stroke-width="1.5"/>
<line x1="464.6" y1="39.2" x2="464.6" y2="44.0" stroke="#2196f3" stroke-width="1.5"/><line x1="464.6" y1="63.7" x2="464.6" y2="68.9" stroke="#2196f3" stroke-width="1.5"/>
<rect x="473.8" y="48.8" width="6.3" height="10.6" fill="none" stroke="#2196f3" stroke-width="1.5"/>
<line x1="476.9" y1="43.4" x2="476.9" y2="48.8" stroke="#2196f3" stroke-width="1.5"/><line x1="476.9" y1="59.3" x2="476.9" y2="64.5" stroke="#2196f3" stroke-width="1.5"/>
<defs><pattern id="dots" width="2" height="2" patternUnits="userSpaceOnUse"><rect width="1" height="1" fill="#3c4252"/><rect x="1" y="1" width="1" height="1" fill="#3c4252"/></pattern></defs>
<polygon points="501.7,64.5 501.7,60.7 509.3,54.5 514.7,58.0 522.4,50.7 524.3,51.7 530.1,46.9 530.1,64.5" fill="url(#dots)"/>
<polyline points="501.7,59.3 509.3,52.2 514.7,56.1 522.4,48.4 524.3,49.2 530.1,43.4" fill="none" stroke="#3c4252" stroke-width="1.5"/>
<path d="M550.2 51.7L555.95 56.8L561.7 51.7" fill="none" stroke="#3c4252" stroke-width="1.5"/>
<line x1="587.6" y1="53.6" x2="612.6" y2="53.6" stroke="#3c4252" stroke-width="1.5"/>
<line x1="600.3" y1="44.9" x2="600.3" y2="50.7" stroke="#3c4252" stroke-width="1.5"/>
<rect x="598.7" y="39.2" width="3.1" height="6.7" rx="1.5" fill="#fff" stroke="#3c4252" stroke-width="1.4"/>
<circle cx="600.3" cy="53.6" r="2.9" fill="#fff" stroke="#3c4252" stroke-width="1.5"/>
<path d="M583.0 61.3L587.6 53.6L592.2 61.3" fill="none" stroke="#3c4252" stroke-width="1.4"/>
<path d="M583.0 61.3H592.2A4.6 5.2 0 0 1 583.0 61.3Z" fill="#fff" stroke="#3c4252" stroke-width="1.4"/>
<path d="M608.0 61.3L612.6 53.6L617.2 61.3" fill="none" stroke="#3c4252" stroke-width="1.4"/>
<path d="M608.0 61.3H617.2A4.6 5.2 0 0 1 608.0 61.3Z" fill="#fff" stroke="#3c4252" stroke-width="1.4"/>
<path d="M645.6 59.7C649.4 56.5 652.5 51.5 656.3 51.7S661.3 58.0 664.8 57.4S670.5 52.6 673.6 49.7" fill="none" stroke="#3c4252" stroke-width="1.5"/>
<path d="M1594.6 39.9H1584.0Q1581.0 39.9 1581.0 42.9V63.5Q1581.0 66.5 1584.0 66.5H1603.4Q1606.4 66.5 1606.4 63.5V54.3" fill="none" stroke="#3c4252" stroke-width="1.5"/>
<path d="M1592.2 54.3L1606.4 39.9M1599.3 39.9H1606.4V46.9" fill="none" stroke="#3c4252" stroke-width="1.5"/>
<rect x="1639" y="32" width="57" height="45" rx="4.5" fill="#3bb0e4"/>
<path d="M1654.5 44.5H1660.5L1663 41.5H1671.5L1674 44.5H1680Q1682.5 44.5 1682.5 47V63.5Q1682.5 66 1680 66H1654.5Q1652 66 1652 63.5V47Q1652 44.5 1654.5 44.5Z" fill="none" stroke="#fff" stroke-width="1.3"/><circle cx="1667" cy="55" r="6.3" fill="none" stroke="#fff" stroke-width="1.5"/>
</svg>
</body></html>
